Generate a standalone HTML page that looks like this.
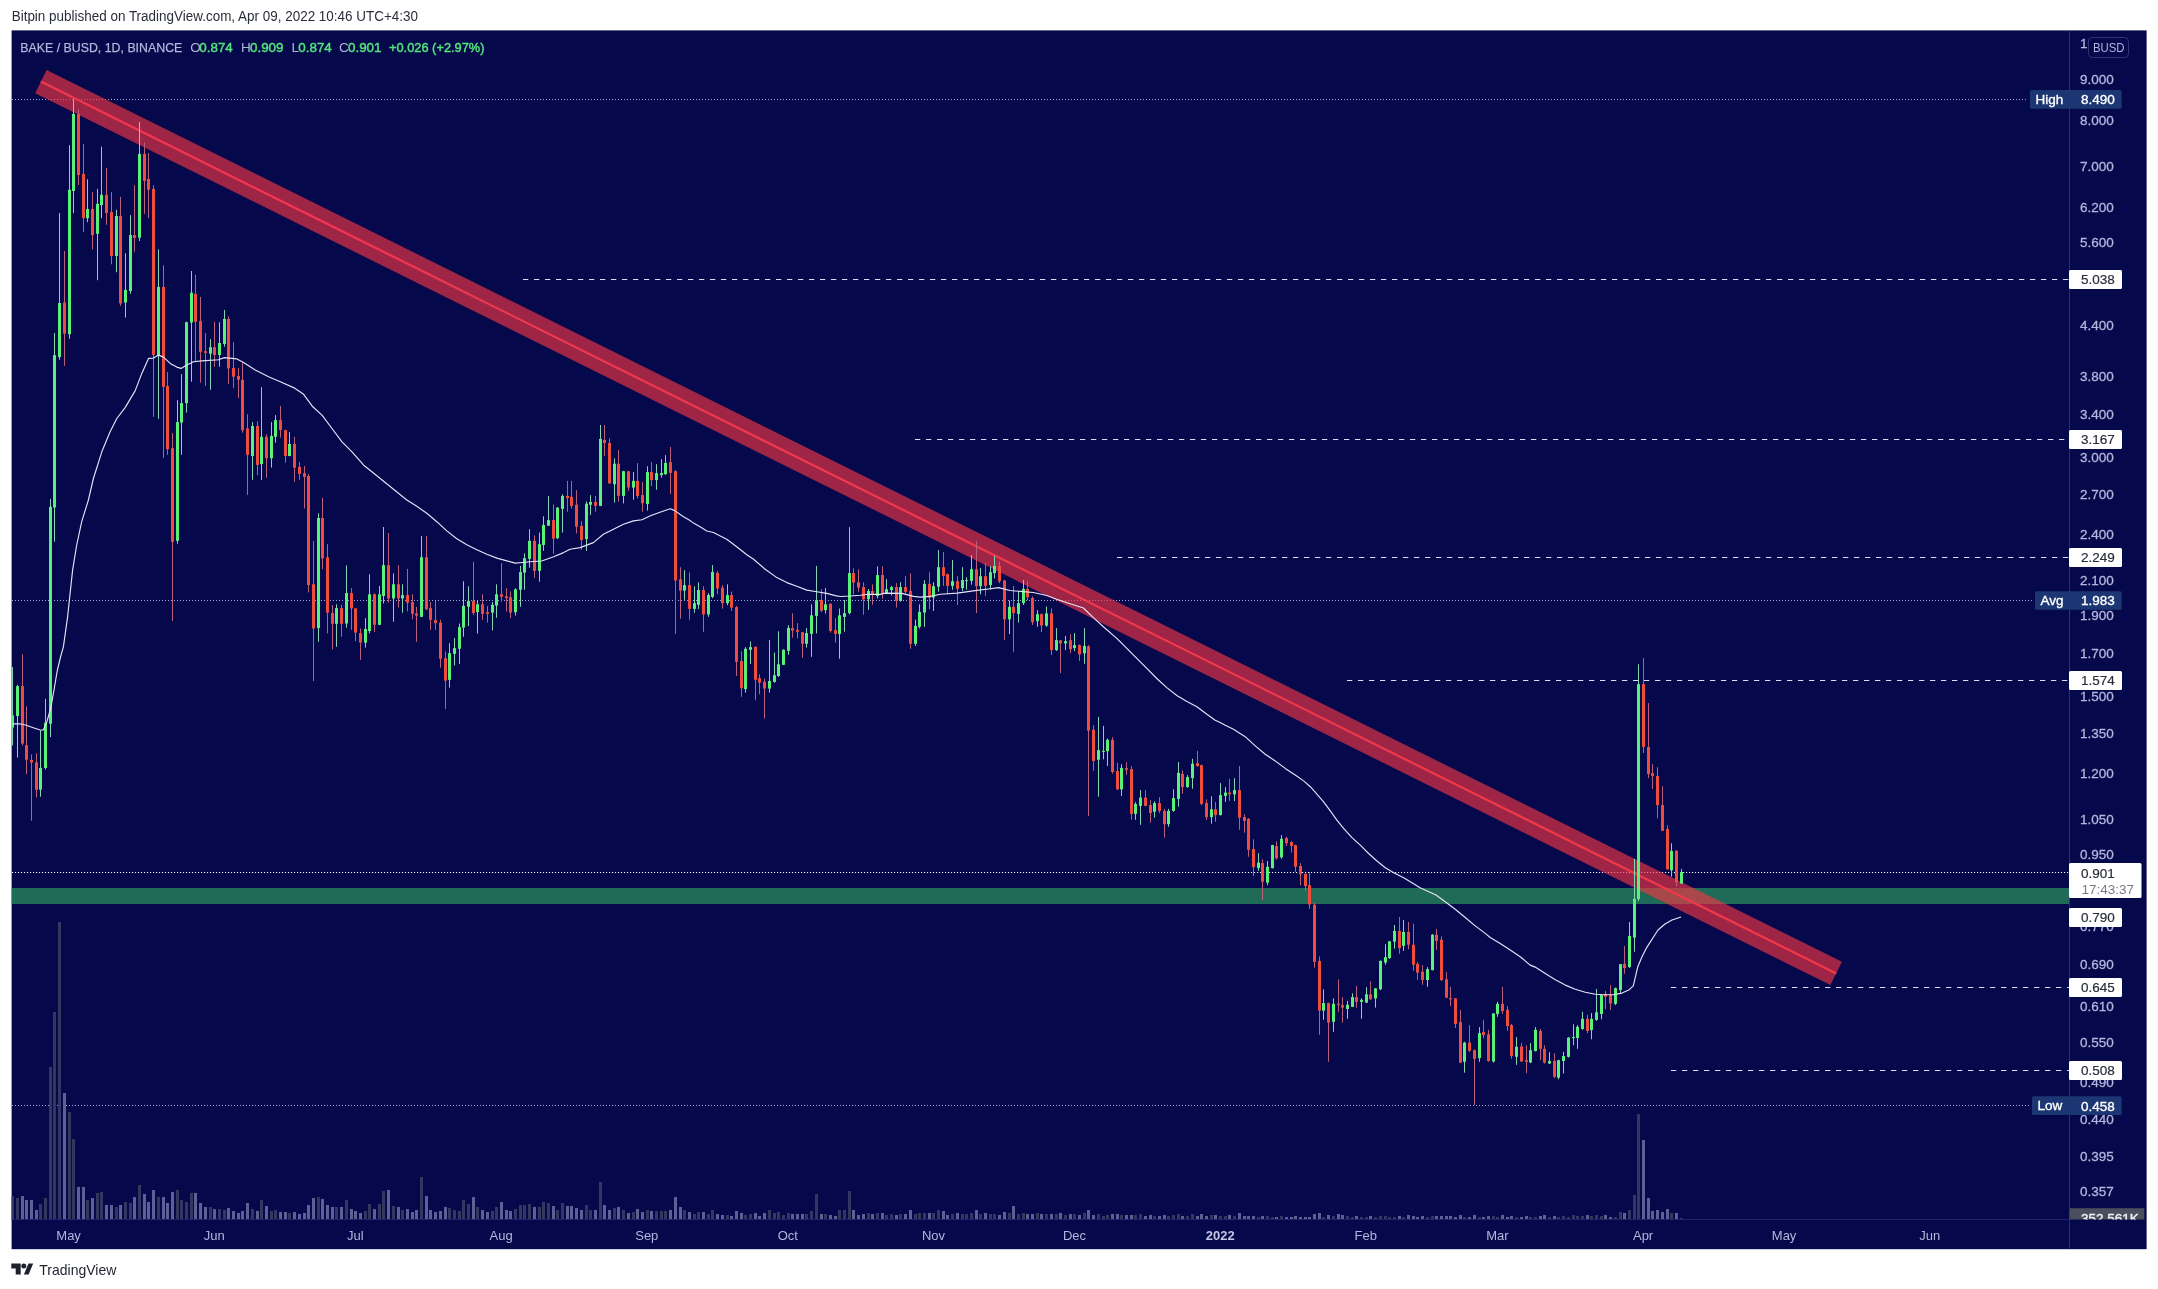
<!DOCTYPE html><html><head><meta charset="utf-8"><title>BAKE / BUSD</title>
<style>html,body{margin:0;padding:0;background:#fff}svg{display:block;opacity:.999;will-change:transform}text{font-family:"Liberation Sans",sans-serif}</style></head><body>
<svg width="2158" height="1289" viewBox="0 0 2158 1289">
<rect width="2158" height="1289" fill="#fff"/>
<rect x="11.6" y="30.4" width="2135.0" height="1218.8" fill="#05084a"/>
<defs><clipPath id="plot"><rect x="11.6" y="30.4" width="2057.9" height="1189.1"/></clipPath></defs>
<g clip-path="url(#plot)">
<line x1="12" y1="99.5" x2="2028" y2="99.5" stroke="#a5a8d0" stroke-width="1" stroke-dasharray="1 2"/>
<line x1="12" y1="600.5" x2="2034" y2="600.5" stroke="#a5a8d0" stroke-width="1" stroke-dasharray="1 2"/>
<line x1="12" y1="1105.5" x2="2031" y2="1105.5" stroke="#a5a8d0" stroke-width="1" stroke-dasharray="1 2"/>
<g shape-rendering="crispEdges"><rect x="11" y="1195.5" width="3" height="24" fill="#33365f"/><rect x="16" y="1197.5" width="3" height="22" fill="#33365f"/><rect x="21" y="1195.5" width="3" height="24" fill="#5d6094"/><rect x="25" y="1199.5" width="3" height="20" fill="#5d6094"/><rect x="30" y="1199.5" width="3" height="20" fill="#5d6094"/><rect x="35" y="1209.5" width="3" height="10" fill="#5d6094"/><rect x="39" y="1203.5" width="3" height="16" fill="#33365f"/><rect x="44" y="1197.5" width="3" height="22" fill="#33365f"/><rect x="49" y="1066.5" width="3" height="153" fill="#33365f"/><rect x="53" y="1011.9" width="3" height="207.6" fill="#33365f"/><rect x="58" y="921.8" width="3" height="297.7" fill="#33365f"/><rect x="63" y="1093" width="3" height="126.5" fill="#5d6094"/><rect x="68" y="1112" width="3" height="107.5" fill="#33365f"/><rect x="72" y="1138.7" width="3" height="80.8" fill="#33365f"/><rect x="77" y="1186.5" width="3" height="33" fill="#5d6094"/><rect x="82" y="1186.5" width="3" height="33" fill="#5d6094"/><rect x="86" y="1200" width="3" height="19.5" fill="#33365f"/><rect x="91" y="1197.5" width="3" height="22" fill="#5d6094"/><rect x="96" y="1192.5" width="3" height="27" fill="#33365f"/><rect x="100" y="1191.5" width="3" height="28" fill="#33365f"/><rect x="105" y="1204.5" width="3" height="15" fill="#5d6094"/><rect x="110" y="1204.5" width="3" height="15" fill="#5d6094"/><rect x="115" y="1206.9" width="3" height="12.6" fill="#33365f"/><rect x="119" y="1204.5" width="3" height="15" fill="#5d6094"/><rect x="124" y="1201.5" width="3" height="18" fill="#33365f"/><rect x="129" y="1202.5" width="3" height="17" fill="#33365f"/><rect x="133" y="1196.5" width="3" height="23" fill="#5d6094"/><rect x="138" y="1184.5" width="3" height="35" fill="#33365f"/><rect x="143" y="1193.5" width="3" height="26" fill="#5d6094"/><rect x="147" y="1202" width="3" height="17.5" fill="#5d6094"/><rect x="152" y="1189.5" width="3" height="30" fill="#5d6094"/><rect x="157" y="1196.5" width="3" height="23" fill="#33365f"/><rect x="162" y="1196.5" width="3" height="23" fill="#5d6094"/><rect x="166" y="1203" width="3" height="16.5" fill="#5d6094"/><rect x="171" y="1191.5" width="3" height="28" fill="#5d6094"/><rect x="176" y="1189.5" width="3" height="30" fill="#33365f"/><rect x="180" y="1199.5" width="3" height="20" fill="#33365f"/><rect x="185" y="1202" width="3" height="17.5" fill="#33365f"/><rect x="190" y="1193" width="3" height="26.5" fill="#33365f"/><rect x="194" y="1193" width="3" height="26.5" fill="#5d6094"/><rect x="199" y="1203" width="3" height="16.5" fill="#5d6094"/><rect x="204" y="1206.9" width="3" height="12.6" fill="#5d6094"/><rect x="209" y="1206.5" width="3" height="13" fill="#33365f"/><rect x="213" y="1208.5" width="3" height="11" fill="#5d6094"/><rect x="218" y="1208.5" width="3" height="11" fill="#33365f"/><rect x="223" y="1209.5" width="3" height="10" fill="#33365f"/><rect x="227" y="1207.5" width="3" height="12" fill="#5d6094"/><rect x="232" y="1210.5" width="3" height="9" fill="#5d6094"/><rect x="237" y="1213" width="3" height="6.5" fill="#5d6094"/><rect x="241" y="1211.1" width="3" height="8.4" fill="#5d6094"/><rect x="246" y="1203" width="3" height="16.5" fill="#5d6094"/><rect x="251" y="1208.5" width="3" height="11" fill="#33365f"/><rect x="256" y="1210.5" width="3" height="9" fill="#5d6094"/><rect x="260" y="1199.5" width="3" height="20" fill="#33365f"/><rect x="265" y="1205.5" width="3" height="14" fill="#5d6094"/><rect x="270" y="1210.5" width="3" height="9" fill="#33365f"/><rect x="274" y="1209.5" width="3" height="10" fill="#33365f"/><rect x="279" y="1212.1" width="3" height="7.4" fill="#5d6094"/><rect x="284" y="1212.1" width="3" height="7.4" fill="#5d6094"/><rect x="288" y="1213.1" width="3" height="6.4" fill="#33365f"/><rect x="293" y="1212.1" width="3" height="7.4" fill="#5d6094"/><rect x="298" y="1214.1" width="3" height="5.4" fill="#5d6094"/><rect x="303" y="1213.1" width="3" height="6.4" fill="#5d6094"/><rect x="307" y="1204.9" width="3" height="14.6" fill="#5d6094"/><rect x="312" y="1198.1" width="3" height="21.4" fill="#5d6094"/><rect x="317" y="1197.1" width="3" height="22.4" fill="#33365f"/><rect x="321" y="1199.1" width="3" height="20.4" fill="#5d6094"/><rect x="326" y="1204.9" width="3" height="14.6" fill="#5d6094"/><rect x="331" y="1206.9" width="3" height="12.6" fill="#5d6094"/><rect x="335" y="1206.5" width="3" height="13" fill="#33365f"/><rect x="340" y="1206.9" width="3" height="12.6" fill="#5d6094"/><rect x="345" y="1200" width="3" height="19.5" fill="#33365f"/><rect x="350" y="1208.5" width="3" height="11" fill="#5d6094"/><rect x="354" y="1211.1" width="3" height="8.4" fill="#5d6094"/><rect x="359" y="1213.1" width="3" height="6.4" fill="#5d6094"/><rect x="364" y="1211.1" width="3" height="8.4" fill="#33365f"/><rect x="368" y="1203.9" width="3" height="15.6" fill="#33365f"/><rect x="373" y="1208.5" width="3" height="11" fill="#5d6094"/><rect x="378" y="1203.9" width="3" height="15.6" fill="#33365f"/><rect x="382" y="1191.1" width="3" height="28.4" fill="#33365f"/><rect x="387" y="1190.1" width="3" height="29.4" fill="#5d6094"/><rect x="392" y="1205.5" width="3" height="14" fill="#33365f"/><rect x="397" y="1206.5" width="3" height="13" fill="#5d6094"/><rect x="401" y="1210.2" width="3" height="9.3" fill="#33365f"/><rect x="406" y="1208.5" width="3" height="11" fill="#5d6094"/><rect x="411" y="1212.1" width="3" height="7.4" fill="#5d6094"/><rect x="415" y="1210.2" width="3" height="9.3" fill="#5d6094"/><rect x="420" y="1177.1" width="3" height="42.4" fill="#33365f"/><rect x="425" y="1195.5" width="3" height="24" fill="#5d6094"/><rect x="429" y="1209.5" width="3" height="10" fill="#5d6094"/><rect x="434" y="1211.5" width="3" height="8" fill="#5d6094"/><rect x="439" y="1210.5" width="3" height="9" fill="#5d6094"/><rect x="444" y="1206.5" width="3" height="13" fill="#5d6094"/><rect x="448" y="1207.5" width="3" height="12" fill="#33365f"/><rect x="453" y="1209.5" width="3" height="10" fill="#33365f"/><rect x="458" y="1210.5" width="3" height="9" fill="#33365f"/><rect x="462" y="1200" width="3" height="19.5" fill="#33365f"/><rect x="467" y="1203.9" width="3" height="15.6" fill="#33365f"/><rect x="472" y="1197.1" width="3" height="22.4" fill="#5d6094"/><rect x="476" y="1206.5" width="3" height="13" fill="#33365f"/><rect x="481" y="1209.5" width="3" height="10" fill="#5d6094"/><rect x="486" y="1212.1" width="3" height="7.4" fill="#5d6094"/><rect x="491" y="1211.1" width="3" height="8.4" fill="#33365f"/><rect x="495" y="1206.5" width="3" height="13" fill="#33365f"/><rect x="500" y="1201.5" width="3" height="18" fill="#5d6094"/><rect x="505" y="1209.5" width="3" height="10" fill="#5d6094"/><rect x="509" y="1211.1" width="3" height="8.4" fill="#5d6094"/><rect x="514" y="1208.8" width="3" height="10.7" fill="#33365f"/><rect x="519" y="1204.9" width="3" height="14.6" fill="#33365f"/><rect x="523" y="1204.5" width="3" height="15" fill="#33365f"/><rect x="528" y="1203.5" width="3" height="16" fill="#33365f"/><rect x="533" y="1206.5" width="3" height="13" fill="#5d6094"/><rect x="538" y="1206.5" width="3" height="13" fill="#33365f"/><rect x="542" y="1201.5" width="3" height="18" fill="#33365f"/><rect x="547" y="1202.5" width="3" height="17" fill="#33365f"/><rect x="552" y="1205.5" width="3" height="14" fill="#5d6094"/><rect x="556" y="1209.5" width="3" height="10" fill="#33365f"/><rect x="561" y="1203" width="3" height="16.5" fill="#33365f"/><rect x="566" y="1205.5" width="3" height="14" fill="#5d6094"/><rect x="570" y="1205.5" width="3" height="14" fill="#5d6094"/><rect x="575" y="1207.5" width="3" height="12" fill="#5d6094"/><rect x="580" y="1209.5" width="3" height="10" fill="#5d6094"/><rect x="585" y="1204.9" width="3" height="14.6" fill="#33365f"/><rect x="589" y="1210.2" width="3" height="9.3" fill="#33365f"/><rect x="594" y="1209.5" width="3" height="10" fill="#5d6094"/><rect x="599" y="1181.9" width="3" height="37.6" fill="#33365f"/><rect x="603" y="1204.5" width="3" height="15" fill="#5d6094"/><rect x="608" y="1209.5" width="3" height="10" fill="#5d6094"/><rect x="613" y="1207.5" width="3" height="12" fill="#33365f"/><rect x="617" y="1206.5" width="3" height="13" fill="#5d6094"/><rect x="622" y="1210.2" width="3" height="9.3" fill="#33365f"/><rect x="627" y="1213.1" width="3" height="6.4" fill="#5d6094"/><rect x="632" y="1212.1" width="3" height="7.4" fill="#33365f"/><rect x="636" y="1208.5" width="3" height="11" fill="#5d6094"/><rect x="641" y="1212.1" width="3" height="7.4" fill="#5d6094"/><rect x="646" y="1209.5" width="3" height="10" fill="#33365f"/><rect x="650" y="1211.1" width="3" height="8.4" fill="#5d6094"/><rect x="655" y="1211.1" width="3" height="8.4" fill="#33365f"/><rect x="660" y="1211.1" width="3" height="8.4" fill="#33365f"/><rect x="664" y="1211.1" width="3" height="8.4" fill="#33365f"/><rect x="669" y="1210.2" width="3" height="9.3" fill="#5d6094"/><rect x="674" y="1197.1" width="3" height="22.4" fill="#5d6094"/><rect x="679" y="1206.5" width="3" height="13" fill="#5d6094"/><rect x="683" y="1209.5" width="3" height="10" fill="#33365f"/><rect x="688" y="1212.1" width="3" height="7.4" fill="#5d6094"/><rect x="693" y="1214.1" width="3" height="5.4" fill="#33365f"/><rect x="697" y="1212.1" width="3" height="7.4" fill="#33365f"/><rect x="702" y="1212.1" width="3" height="7.4" fill="#5d6094"/><rect x="707" y="1214.1" width="3" height="5.4" fill="#33365f"/><rect x="711" y="1210.2" width="3" height="9.3" fill="#33365f"/><rect x="716" y="1214.1" width="3" height="5.4" fill="#5d6094"/><rect x="721" y="1215" width="3" height="4.5" fill="#5d6094"/><rect x="726" y="1215" width="3" height="4.5" fill="#33365f"/><rect x="730" y="1216" width="3" height="3.5" fill="#5d6094"/><rect x="735" y="1211.1" width="3" height="8.4" fill="#5d6094"/><rect x="740" y="1213.1" width="3" height="6.4" fill="#5d6094"/><rect x="744" y="1215" width="3" height="4.5" fill="#33365f"/><rect x="749" y="1214.1" width="3" height="5.4" fill="#33365f"/><rect x="754" y="1213.1" width="3" height="6.4" fill="#5d6094"/><rect x="758" y="1216" width="3" height="3.5" fill="#5d6094"/><rect x="763" y="1213.1" width="3" height="6.4" fill="#5d6094"/><rect x="768" y="1210.2" width="3" height="9.3" fill="#33365f"/><rect x="773" y="1213.1" width="3" height="6.4" fill="#33365f"/><rect x="777" y="1212.1" width="3" height="7.4" fill="#33365f"/><rect x="782" y="1215" width="3" height="4.5" fill="#33365f"/><rect x="787" y="1213.1" width="3" height="6.4" fill="#33365f"/><rect x="791" y="1214.1" width="3" height="5.4" fill="#5d6094"/><rect x="796" y="1214.1" width="3" height="5.4" fill="#5d6094"/><rect x="801" y="1214.1" width="3" height="5.4" fill="#5d6094"/><rect x="805" y="1214.1" width="3" height="5.4" fill="#33365f"/><rect x="810" y="1211.1" width="3" height="8.4" fill="#33365f"/><rect x="815" y="1194.2" width="3" height="25.3" fill="#33365f"/><rect x="820" y="1214.1" width="3" height="5.4" fill="#5d6094"/><rect x="824" y="1214.1" width="3" height="5.4" fill="#33365f"/><rect x="829" y="1215" width="3" height="4.5" fill="#5d6094"/><rect x="834" y="1216" width="3" height="3.5" fill="#5d6094"/><rect x="838" y="1209.5" width="3" height="10" fill="#33365f"/><rect x="843" y="1209.5" width="3" height="10" fill="#33365f"/><rect x="848" y="1191.1" width="3" height="28.4" fill="#33365f"/><rect x="852" y="1209.5" width="3" height="10" fill="#5d6094"/><rect x="857" y="1214.5" width="3" height="5" fill="#5d6094"/><rect x="862" y="1213.5" width="3" height="6" fill="#5d6094"/><rect x="867" y="1213.4" width="3" height="6.1" fill="#33365f"/><rect x="871" y="1214.4" width="3" height="5.1" fill="#5d6094"/><rect x="876" y="1213.3" width="3" height="6.2" fill="#33365f"/><rect x="881" y="1212.8" width="3" height="6.7" fill="#5d6094"/><rect x="885" y="1214.5" width="3" height="5" fill="#33365f"/><rect x="890" y="1214.1" width="3" height="5.4" fill="#33365f"/><rect x="895" y="1214.5" width="3" height="5" fill="#5d6094"/><rect x="899" y="1214.1" width="3" height="5.4" fill="#33365f"/><rect x="904" y="1213.6" width="3" height="5.9" fill="#5d6094"/><rect x="909" y="1210.2" width="3" height="9.3" fill="#5d6094"/><rect x="914" y="1213.7" width="3" height="5.8" fill="#33365f"/><rect x="918" y="1213.2" width="3" height="6.3" fill="#33365f"/><rect x="923" y="1213.3" width="3" height="6.2" fill="#33365f"/><rect x="928" y="1213.1" width="3" height="6.4" fill="#5d6094"/><rect x="932" y="1212.9" width="3" height="6.6" fill="#33365f"/><rect x="937" y="1210.2" width="3" height="9.3" fill="#33365f"/><rect x="942" y="1211.1" width="3" height="8.4" fill="#5d6094"/><rect x="946" y="1214.7" width="3" height="4.8" fill="#5d6094"/><rect x="951" y="1213.7" width="3" height="5.8" fill="#33365f"/><rect x="956" y="1213.2" width="3" height="6.3" fill="#5d6094"/><rect x="961" y="1214.4" width="3" height="5.1" fill="#33365f"/><rect x="965" y="1214.3" width="3" height="5.2" fill="#33365f"/><rect x="970" y="1213" width="3" height="6.5" fill="#33365f"/><rect x="975" y="1209.5" width="3" height="10" fill="#5d6094"/><rect x="979" y="1213.6" width="3" height="5.9" fill="#33365f"/><rect x="984" y="1212.7" width="3" height="6.8" fill="#5d6094"/><rect x="989" y="1214.1" width="3" height="5.4" fill="#33365f"/><rect x="993" y="1213.6" width="3" height="5.9" fill="#33365f"/><rect x="998" y="1214.6" width="3" height="4.9" fill="#5d6094"/><rect x="1003" y="1212.1" width="3" height="7.4" fill="#5d6094"/><rect x="1008" y="1213" width="3" height="6.5" fill="#33365f"/><rect x="1012" y="1205.5" width="3" height="14" fill="#5d6094"/><rect x="1017" y="1213.5" width="3" height="6" fill="#33365f"/><rect x="1022" y="1213.2" width="3" height="6.3" fill="#33365f"/><rect x="1026" y="1214.4" width="3" height="5.1" fill="#5d6094"/><rect x="1031" y="1213.5" width="3" height="6" fill="#5d6094"/><rect x="1036" y="1213.4" width="3" height="6.1" fill="#33365f"/><rect x="1040" y="1214.3" width="3" height="5.2" fill="#5d6094"/><rect x="1045" y="1213.7" width="3" height="5.8" fill="#33365f"/><rect x="1050" y="1213.6" width="3" height="5.9" fill="#5d6094"/><rect x="1055" y="1214" width="3" height="5.5" fill="#33365f"/><rect x="1059" y="1213" width="3" height="6.5" fill="#5d6094"/><rect x="1064" y="1214.8" width="3" height="4.7" fill="#33365f"/><rect x="1069" y="1214" width="3" height="5.5" fill="#5d6094"/><rect x="1073" y="1213.5" width="3" height="6" fill="#33365f"/><rect x="1078" y="1214.5" width="3" height="5" fill="#5d6094"/><rect x="1083" y="1213.2" width="3" height="6.3" fill="#33365f"/><rect x="1087" y="1210.2" width="3" height="9.3" fill="#5d6094"/><rect x="1092" y="1214.7" width="3" height="4.8" fill="#5d6094"/><rect x="1097" y="1213.5" width="3" height="6" fill="#33365f"/><rect x="1102" y="1215.6" width="3" height="3.9" fill="#33365f"/><rect x="1106" y="1215.3" width="3" height="4.2" fill="#33365f"/><rect x="1111" y="1214.4" width="3" height="5.1" fill="#5d6094"/><rect x="1116" y="1214.1" width="3" height="5.4" fill="#5d6094"/><rect x="1120" y="1215" width="3" height="4.5" fill="#33365f"/><rect x="1125" y="1215.3" width="3" height="4.2" fill="#5d6094"/><rect x="1130" y="1214.5" width="3" height="5" fill="#5d6094"/><rect x="1134" y="1215.4" width="3" height="4.1" fill="#33365f"/><rect x="1139" y="1214.2" width="3" height="5.3" fill="#33365f"/><rect x="1144" y="1215.9" width="3" height="3.6" fill="#5d6094"/><rect x="1149" y="1215.1" width="3" height="4.4" fill="#5d6094"/><rect x="1153" y="1216.2" width="3" height="3.3" fill="#33365f"/><rect x="1158" y="1215.8" width="3" height="3.7" fill="#5d6094"/><rect x="1163" y="1214.7" width="3" height="4.8" fill="#5d6094"/><rect x="1167" y="1216.1" width="3" height="3.4" fill="#33365f"/><rect x="1172" y="1215.4" width="3" height="4.1" fill="#33365f"/><rect x="1177" y="1214" width="3" height="5.5" fill="#33365f"/><rect x="1181" y="1215.7" width="3" height="3.8" fill="#5d6094"/><rect x="1186" y="1215.6" width="3" height="3.9" fill="#33365f"/><rect x="1191" y="1214.4" width="3" height="5.1" fill="#33365f"/><rect x="1196" y="1215.9" width="3" height="3.6" fill="#5d6094"/><rect x="1200" y="1214.4" width="3" height="5.1" fill="#5d6094"/><rect x="1205" y="1216.1" width="3" height="3.4" fill="#5d6094"/><rect x="1210" y="1215.3" width="3" height="4.2" fill="#33365f"/><rect x="1214" y="1215.1" width="3" height="4.4" fill="#5d6094"/><rect x="1219" y="1215.5" width="3" height="4" fill="#33365f"/><rect x="1224" y="1215.7" width="3" height="3.8" fill="#33365f"/><rect x="1228" y="1214.9" width="3" height="4.6" fill="#5d6094"/><rect x="1233" y="1215.7" width="3" height="3.8" fill="#33365f"/><rect x="1238" y="1213.1" width="3" height="6.4" fill="#5d6094"/><rect x="1243" y="1216.2" width="3" height="3.3" fill="#5d6094"/><rect x="1247" y="1216.3" width="3" height="3.2" fill="#5d6094"/><rect x="1252" y="1216" width="3" height="3.5" fill="#5d6094"/><rect x="1257" y="1217.3" width="3" height="2.2" fill="#33365f"/><rect x="1261" y="1216.2" width="3" height="3.3" fill="#5d6094"/><rect x="1266" y="1216.3" width="3" height="3.2" fill="#33365f"/><rect x="1271" y="1217" width="3" height="2.5" fill="#33365f"/><rect x="1275" y="1216.7" width="3" height="2.8" fill="#5d6094"/><rect x="1280" y="1216.2" width="3" height="3.3" fill="#33365f"/><rect x="1285" y="1217.3" width="3" height="2.2" fill="#5d6094"/><rect x="1290" y="1216.9" width="3" height="2.6" fill="#5d6094"/><rect x="1294" y="1216" width="3" height="3.5" fill="#5d6094"/><rect x="1299" y="1216.8" width="3" height="2.7" fill="#5d6094"/><rect x="1304" y="1216.6" width="3" height="2.9" fill="#5d6094"/><rect x="1308" y="1216.7" width="3" height="2.8" fill="#5d6094"/><rect x="1313" y="1214.1" width="3" height="5.4" fill="#5d6094"/><rect x="1318" y="1213.1" width="3" height="6.4" fill="#5d6094"/><rect x="1322" y="1216.8" width="3" height="2.7" fill="#33365f"/><rect x="1327" y="1215" width="3" height="4.5" fill="#5d6094"/><rect x="1332" y="1215.9" width="3" height="3.6" fill="#33365f"/><rect x="1337" y="1214.1" width="3" height="5.4" fill="#5d6094"/><rect x="1341" y="1215" width="3" height="4.5" fill="#5d6094"/><rect x="1346" y="1216.3" width="3" height="3.2" fill="#33365f"/><rect x="1351" y="1217.1" width="3" height="2.4" fill="#33365f"/><rect x="1355" y="1216.4" width="3" height="3.1" fill="#5d6094"/><rect x="1360" y="1217.2" width="3" height="2.3" fill="#33365f"/><rect x="1365" y="1216.9" width="3" height="2.6" fill="#33365f"/><rect x="1369" y="1216.4" width="3" height="3.1" fill="#5d6094"/><rect x="1374" y="1217.1" width="3" height="2.4" fill="#33365f"/><rect x="1379" y="1216.4" width="3" height="3.1" fill="#33365f"/><rect x="1384" y="1216.3" width="3" height="3.2" fill="#33365f"/><rect x="1388" y="1217.1" width="3" height="2.4" fill="#33365f"/><rect x="1393" y="1216.5" width="3" height="3" fill="#33365f"/><rect x="1398" y="1215.7" width="3" height="3.8" fill="#5d6094"/><rect x="1402" y="1216.6" width="3" height="2.9" fill="#33365f"/><rect x="1407" y="1215" width="3" height="4.5" fill="#5d6094"/><rect x="1412" y="1216.4" width="3" height="3.1" fill="#5d6094"/><rect x="1416" y="1216.9" width="3" height="2.6" fill="#5d6094"/><rect x="1421" y="1216.4" width="3" height="3.1" fill="#5d6094"/><rect x="1426" y="1217.1" width="3" height="2.4" fill="#33365f"/><rect x="1431" y="1216.2" width="3" height="3.3" fill="#33365f"/><rect x="1435" y="1216.3" width="3" height="3.2" fill="#5d6094"/><rect x="1440" y="1216.3" width="3" height="3.2" fill="#5d6094"/><rect x="1445" y="1216.4" width="3" height="3.1" fill="#5d6094"/><rect x="1449" y="1216.2" width="3" height="3.3" fill="#5d6094"/><rect x="1454" y="1216.6" width="3" height="2.9" fill="#5d6094"/><rect x="1459" y="1215" width="3" height="4.5" fill="#5d6094"/><rect x="1463" y="1216.9" width="3" height="2.6" fill="#33365f"/><rect x="1468" y="1216.6" width="3" height="2.9" fill="#5d6094"/><rect x="1473" y="1215" width="3" height="4.5" fill="#5d6094"/><rect x="1478" y="1216.7" width="3" height="2.8" fill="#33365f"/><rect x="1482" y="1216.7" width="3" height="2.8" fill="#5d6094"/><rect x="1487" y="1215.9" width="3" height="3.6" fill="#5d6094"/><rect x="1492" y="1216.1" width="3" height="3.4" fill="#33365f"/><rect x="1496" y="1216.7" width="3" height="2.8" fill="#33365f"/><rect x="1501" y="1215" width="3" height="4.5" fill="#5d6094"/><rect x="1506" y="1216.8" width="3" height="2.7" fill="#5d6094"/><rect x="1510" y="1216" width="3" height="3.5" fill="#5d6094"/><rect x="1515" y="1217" width="3" height="2.5" fill="#33365f"/><rect x="1520" y="1216.8" width="3" height="2.7" fill="#5d6094"/><rect x="1525" y="1216.2" width="3" height="3.3" fill="#5d6094"/><rect x="1529" y="1217.1" width="3" height="2.4" fill="#33365f"/><rect x="1534" y="1216.6" width="3" height="2.9" fill="#33365f"/><rect x="1539" y="1216" width="3" height="3.5" fill="#5d6094"/><rect x="1543" y="1215" width="3" height="4.5" fill="#5d6094"/><rect x="1548" y="1216.8" width="3" height="2.7" fill="#33365f"/><rect x="1553" y="1216" width="3" height="3.5" fill="#5d6094"/><rect x="1557" y="1216.9" width="3" height="2.6" fill="#33365f"/><rect x="1562" y="1216.4" width="3" height="3.1" fill="#33365f"/><rect x="1567" y="1217.2" width="3" height="2.3" fill="#33365f"/><rect x="1572" y="1214.5" width="3" height="5" fill="#33365f"/><rect x="1576" y="1215.5" width="3" height="4" fill="#33365f"/><rect x="1581" y="1215.5" width="3" height="4" fill="#33365f"/><rect x="1586" y="1215" width="3" height="4.5" fill="#5d6094"/><rect x="1590" y="1215.5" width="3" height="4" fill="#33365f"/><rect x="1595" y="1214.5" width="3" height="5" fill="#33365f"/><rect x="1600" y="1216" width="3" height="3.5" fill="#33365f"/><rect x="1604" y="1215" width="3" height="4.5" fill="#5d6094"/><rect x="1609" y="1216.5" width="3" height="3" fill="#5d6094"/><rect x="1614" y="1217" width="3" height="2.5" fill="#33365f"/><rect x="1619" y="1212.1" width="3" height="7.4" fill="#33365f"/><rect x="1623" y="1213.1" width="3" height="6.4" fill="#5d6094"/><rect x="1628" y="1210.2" width="3" height="9.3" fill="#33365f"/><rect x="1633" y="1194.5" width="3" height="25" fill="#33365f"/><rect x="1637" y="1113.5" width="3" height="106" fill="#33365f"/><rect x="1642" y="1139.5" width="3" height="80" fill="#5d6094"/><rect x="1647" y="1198.1" width="3" height="21.4" fill="#5d6094"/><rect x="1651" y="1211.1" width="3" height="8.4" fill="#5d6094"/><rect x="1656" y="1210.2" width="3" height="9.3" fill="#5d6094"/><rect x="1661" y="1212.1" width="3" height="7.4" fill="#5d6094"/><rect x="1666" y="1209.2" width="3" height="10.3" fill="#5d6094"/><rect x="1670" y="1213.1" width="3" height="6.4" fill="#33365f"/><rect x="1675" y="1213.1" width="3" height="6.4" fill="#5d6094"/><rect x="1680" y="1217.5" width="3" height="2" fill="#33365f"/></g>
<rect x="11.6" y="888" width="2057.9" height="16" fill="#206a58"/>
<line x1="523" y1="279.5" x2="2069.5" y2="279.5" stroke="#dcddfa" stroke-width="1.15" stroke-dasharray="5.3 5.7"/>
<line x1="915" y1="439.5" x2="2069.5" y2="439.5" stroke="#dcddfa" stroke-width="1.15" stroke-dasharray="5.3 5.7"/>
<line x1="1117" y1="557.5" x2="2069.5" y2="557.5" stroke="#dcddfa" stroke-width="1.15" stroke-dasharray="5.3 5.7"/>
<line x1="1347" y1="680.5" x2="2069.5" y2="680.5" stroke="#dcddfa" stroke-width="1.15" stroke-dasharray="5.3 5.7"/>
<line x1="1671" y1="987.5" x2="2069.5" y2="987.5" stroke="#dcddfa" stroke-width="1.15" stroke-dasharray="5.3 5.7"/>
<line x1="1671" y1="1070.5" x2="2069.5" y2="1070.5" stroke="#dcddfa" stroke-width="1.15" stroke-dasharray="5.3 5.7"/>
<line x1="12" y1="872.5" x2="2069.5" y2="872.5" stroke="#ffffff" stroke-width="1.15" stroke-dasharray="1.15 1.85"/>
<line x1="40.9" y1="81.6" x2="1836.2" y2="973.4" stroke="#f23645" stroke-opacity="0.65" stroke-width="25.8"/>
<line x1="40.9" y1="81.6" x2="1836.2" y2="973.4" stroke="#f2384a" stroke-width="2.2"/>
<g><rect x="12" y="667" width="1" height="78.5" fill="#82d4b2"/><rect x="17" y="684.9" width="1" height="72.7" fill="#82d4b2"/><rect x="22" y="654.3" width="1" height="91.2" fill="#b95f79"/><rect x="26" y="706.4" width="1" height="67.8" fill="#b95f79"/><rect x="31" y="754.4" width="1" height="66.4" fill="#b95f79"/><rect x="36" y="753.3" width="1" height="44.2" fill="#b95f79"/><rect x="40" y="730.8" width="1" height="65.9" fill="#82d4b2"/><rect x="45" y="698.9" width="1" height="70.6" fill="#82d4b2"/><rect x="50" y="498.9" width="1" height="238.1" fill="#82d4b2"/><rect x="54" y="333" width="1" height="208.7" fill="#82d4b2"/><rect x="59" y="213.1" width="1" height="146.6" fill="#82d4b2"/><rect x="64" y="251" width="1" height="114.9" fill="#b95f79"/><rect x="69" y="145.1" width="1" height="193.7" fill="#82d4b2"/><rect x="73" y="99.2" width="1" height="113.9" fill="#82d4b2"/><rect x="78" y="109.2" width="1" height="75.9" fill="#b95f79"/><rect x="83" y="143.9" width="1" height="88.3" fill="#b95f79"/><rect x="87" y="179.3" width="1" height="42.9" fill="#82d4b2"/><rect x="92" y="192.1" width="1" height="57.2" fill="#b95f79"/><rect x="97" y="188.8" width="1" height="91.4" fill="#82d4b2"/><rect x="101" y="146.7" width="1" height="71.4" fill="#82d4b2"/><rect x="106" y="167.9" width="1" height="56.9" fill="#b95f79"/><rect x="111" y="192.1" width="1" height="72.2" fill="#b95f79"/><rect x="116" y="209.8" width="1" height="62.4" fill="#82d4b2"/><rect x="120" y="196.8" width="1" height="109.1" fill="#b95f79"/><rect x="125" y="253.2" width="1" height="64.4" fill="#82d4b2"/><rect x="130" y="215.1" width="1" height="78.7" fill="#82d4b2"/><rect x="134" y="185.1" width="1" height="66.7" fill="#b95f79"/><rect x="139" y="122" width="1" height="119" fill="#82d4b2"/><rect x="144" y="142.2" width="1" height="71.6" fill="#b95f79"/><rect x="148" y="153.1" width="1" height="65.1" fill="#b95f79"/><rect x="153" y="185.1" width="1" height="231.7" fill="#b95f79"/><rect x="158" y="249.3" width="1" height="169.5" fill="#82d4b2"/><rect x="163" y="265.2" width="1" height="192.5" fill="#b95f79"/><rect x="167" y="372.1" width="1" height="82.7" fill="#b95f79"/><rect x="172" y="433.1" width="1" height="187.8" fill="#b95f79"/><rect x="177" y="400.1" width="1" height="143.6" fill="#82d4b2"/><rect x="181" y="374.2" width="1" height="80.6" fill="#82d4b2"/><rect x="186" y="321.7" width="1" height="90.9" fill="#82d4b2"/><rect x="191" y="271" width="1" height="110.7" fill="#82d4b2"/><rect x="195" y="274.9" width="1" height="86.9" fill="#b95f79"/><rect x="200" y="296.9" width="1" height="85.7" fill="#b95f79"/><rect x="205" y="333" width="1" height="52.9" fill="#b95f79"/><rect x="210" y="339.2" width="1" height="50.6" fill="#82d4b2"/><rect x="214" y="321.7" width="1" height="45" fill="#b95f79"/><rect x="219" y="322.2" width="1" height="44.5" fill="#82d4b2"/><rect x="224" y="310" width="1" height="36.7" fill="#82d4b2"/><rect x="228" y="316.2" width="1" height="67.7" fill="#b95f79"/><rect x="233" y="342.2" width="1" height="45.9" fill="#b95f79"/><rect x="238" y="367.9" width="1" height="30.2" fill="#b95f79"/><rect x="242" y="362.6" width="1" height="70.1" fill="#b95f79"/><rect x="247" y="414.3" width="1" height="80.6" fill="#b95f79"/><rect x="252" y="422.1" width="1" height="57.7" fill="#82d4b2"/><rect x="257" y="421.3" width="1" height="53.9" fill="#b95f79"/><rect x="261" y="387.1" width="1" height="92.8" fill="#82d4b2"/><rect x="266" y="434.3" width="1" height="43.4" fill="#b95f79"/><rect x="271" y="422.1" width="1" height="45.5" fill="#82d4b2"/><rect x="275" y="415.1" width="1" height="27.5" fill="#82d4b2"/><rect x="280" y="405.9" width="1" height="31.7" fill="#b95f79"/><rect x="285" y="429.8" width="1" height="32.9" fill="#b95f79"/><rect x="289" y="432.1" width="1" height="24.2" fill="#82d4b2"/><rect x="294" y="436.8" width="1" height="45" fill="#b95f79"/><rect x="299" y="461.8" width="1" height="18" fill="#b95f79"/><rect x="304" y="466" width="1" height="42.5" fill="#b95f79"/><rect x="308" y="473.8" width="1" height="118.7" fill="#b95f79"/><rect x="313" y="540.9" width="1" height="140.1" fill="#b95f79"/><rect x="318" y="513.3" width="1" height="128.5" fill="#82d4b2"/><rect x="322" y="497.7" width="1" height="71.5" fill="#b95f79"/><rect x="327" y="544.2" width="1" height="89.3" fill="#b95f79"/><rect x="332" y="605.1" width="1" height="44.2" fill="#b95f79"/><rect x="336" y="604.3" width="1" height="42.5" fill="#82d4b2"/><rect x="341" y="604.8" width="1" height="32" fill="#b95f79"/><rect x="346" y="565.4" width="1" height="62.2" fill="#82d4b2"/><rect x="351" y="588.1" width="1" height="41.7" fill="#b95f79"/><rect x="355" y="608.1" width="1" height="32.9" fill="#b95f79"/><rect x="360" y="628.5" width="1" height="31.4" fill="#b95f79"/><rect x="365" y="618.1" width="1" height="29.5" fill="#82d4b2"/><rect x="369" y="574.2" width="1" height="59.2" fill="#82d4b2"/><rect x="374" y="593.4" width="1" height="38.4" fill="#b95f79"/><rect x="379" y="585.9" width="1" height="39.2" fill="#82d4b2"/><rect x="383" y="527" width="1" height="76.4" fill="#82d4b2"/><rect x="388" y="533" width="1" height="69.6" fill="#b95f79"/><rect x="393" y="573.4" width="1" height="48.4" fill="#82d4b2"/><rect x="398" y="565.1" width="1" height="42.5" fill="#b95f79"/><rect x="402" y="584.3" width="1" height="28.4" fill="#82d4b2"/><rect x="407" y="568.9" width="1" height="42.5" fill="#b95f79"/><rect x="412" y="594.3" width="1" height="25" fill="#b95f79"/><rect x="416" y="606.8" width="1" height="35" fill="#b95f79"/><rect x="421" y="535.9" width="1" height="81.2" fill="#82d4b2"/><rect x="426" y="535.9" width="1" height="74.2" fill="#b95f79"/><rect x="430" y="602.1" width="1" height="27.7" fill="#b95f79"/><rect x="435" y="600.9" width="1" height="28.9" fill="#b95f79"/><rect x="440" y="619.8" width="1" height="47.9" fill="#b95f79"/><rect x="445" y="651.5" width="1" height="57.4" fill="#b95f79"/><rect x="449" y="643.1" width="1" height="44.5" fill="#82d4b2"/><rect x="454" y="638.1" width="1" height="27.4" fill="#82d4b2"/><rect x="459" y="623.5" width="1" height="40.4" fill="#82d4b2"/><rect x="463" y="581.2" width="1" height="55.6" fill="#82d4b2"/><rect x="468" y="586.3" width="1" height="39.7" fill="#82d4b2"/><rect x="473" y="561.7" width="1" height="53.4" fill="#b95f79"/><rect x="477" y="600.1" width="1" height="33.4" fill="#82d4b2"/><rect x="482" y="594.3" width="1" height="25.5" fill="#b95f79"/><rect x="487" y="605.9" width="1" height="16.7" fill="#b95f79"/><rect x="492" y="602.1" width="1" height="28.4" fill="#82d4b2"/><rect x="496" y="584.3" width="1" height="33.4" fill="#82d4b2"/><rect x="501" y="563.1" width="1" height="38.7" fill="#b95f79"/><rect x="506" y="588.1" width="1" height="23.4" fill="#b95f79"/><rect x="510" y="591.4" width="1" height="26.7" fill="#b95f79"/><rect x="515" y="588.4" width="1" height="27.2" fill="#82d4b2"/><rect x="520" y="565.9" width="1" height="40.9" fill="#82d4b2"/><rect x="524" y="553.4" width="1" height="36.4" fill="#82d4b2"/><rect x="529" y="529.2" width="1" height="38.4" fill="#82d4b2"/><rect x="534" y="535.4" width="1" height="42.5" fill="#b95f79"/><rect x="539" y="532.5" width="1" height="49.2" fill="#82d4b2"/><rect x="543" y="516.3" width="1" height="34.5" fill="#82d4b2"/><rect x="548" y="495.9" width="1" height="30.1" fill="#82d4b2"/><rect x="553" y="504.5" width="1" height="49.3" fill="#b95f79"/><rect x="557" y="506.9" width="1" height="32.2" fill="#82d4b2"/><rect x="562" y="494.3" width="1" height="38.3" fill="#82d4b2"/><rect x="567" y="480.9" width="1" height="30.8" fill="#b95f79"/><rect x="571" y="480.9" width="1" height="27.6" fill="#b95f79"/><rect x="576" y="490.1" width="1" height="43.3" fill="#b95f79"/><rect x="581" y="521.2" width="1" height="28.6" fill="#b95f79"/><rect x="586" y="501.5" width="1" height="49.4" fill="#82d4b2"/><rect x="590" y="495.1" width="1" height="19.8" fill="#82d4b2"/><rect x="595" y="495.9" width="1" height="15.8" fill="#b95f79"/><rect x="600" y="425" width="1" height="81.2" fill="#82d4b2"/><rect x="604" y="425" width="1" height="30.9" fill="#b95f79"/><rect x="609" y="438.4" width="1" height="45.4" fill="#b95f79"/><rect x="614" y="458.4" width="1" height="44.2" fill="#82d4b2"/><rect x="618" y="450" width="1" height="51.7" fill="#b95f79"/><rect x="623" y="470.9" width="1" height="32.5" fill="#82d4b2"/><rect x="628" y="470.9" width="1" height="20" fill="#b95f79"/><rect x="633" y="472.1" width="1" height="27.7" fill="#82d4b2"/><rect x="637" y="463.1" width="1" height="35.4" fill="#b95f79"/><rect x="642" y="482.1" width="1" height="29.6" fill="#b95f79"/><rect x="647" y="466.2" width="1" height="44.4" fill="#82d4b2"/><rect x="651" y="462.1" width="1" height="24.2" fill="#b95f79"/><rect x="656" y="464.2" width="1" height="25.5" fill="#82d4b2"/><rect x="661" y="459.2" width="1" height="18.4" fill="#82d4b2"/><rect x="665" y="455.1" width="1" height="19.7" fill="#82d4b2"/><rect x="670" y="447" width="1" height="47.2" fill="#b95f79"/><rect x="675" y="470.1" width="1" height="163.9" fill="#b95f79"/><rect x="680" y="567.2" width="1" height="51.6" fill="#b95f79"/><rect x="684" y="570.1" width="1" height="29.7" fill="#82d4b2"/><rect x="689" y="572.3" width="1" height="47.5" fill="#b95f79"/><rect x="694" y="586.3" width="1" height="26.4" fill="#82d4b2"/><rect x="698" y="582.3" width="1" height="26.8" fill="#82d4b2"/><rect x="703" y="586.3" width="1" height="45.5" fill="#b95f79"/><rect x="708" y="593.1" width="1" height="23.7" fill="#82d4b2"/><rect x="712" y="565.1" width="1" height="33" fill="#82d4b2"/><rect x="717" y="570.9" width="1" height="23.4" fill="#b95f79"/><rect x="722" y="585.1" width="1" height="23.5" fill="#b95f79"/><rect x="727" y="584.3" width="1" height="20.9" fill="#82d4b2"/><rect x="731" y="591.5" width="1" height="19.5" fill="#b95f79"/><rect x="736" y="606" width="1" height="70" fill="#b95f79"/><rect x="741" y="651.3" width="1" height="45.5" fill="#b95f79"/><rect x="745" y="647.1" width="1" height="45.5" fill="#82d4b2"/><rect x="750" y="641.5" width="1" height="22.4" fill="#82d4b2"/><rect x="755" y="646.3" width="1" height="53.9" fill="#b95f79"/><rect x="759" y="674.3" width="1" height="20" fill="#b95f79"/><rect x="764" y="678.5" width="1" height="40" fill="#b95f79"/><rect x="769" y="640.1" width="1" height="52.6" fill="#82d4b2"/><rect x="774" y="652.6" width="1" height="30" fill="#82d4b2"/><rect x="778" y="631.3" width="1" height="45.5" fill="#82d4b2"/><rect x="783" y="649.3" width="1" height="15.8" fill="#82d4b2"/><rect x="788" y="625.1" width="1" height="29.7" fill="#82d4b2"/><rect x="792" y="613.2" width="1" height="24.5" fill="#b95f79"/><rect x="797" y="623.1" width="1" height="15.3" fill="#b95f79"/><rect x="802" y="631.8" width="1" height="25.9" fill="#b95f79"/><rect x="806" y="628.1" width="1" height="19.5" fill="#82d4b2"/><rect x="811" y="604.3" width="1" height="52.5" fill="#82d4b2"/><rect x="816" y="565.9" width="1" height="67.5" fill="#82d4b2"/><rect x="821" y="589.1" width="1" height="22.9" fill="#b95f79"/><rect x="825" y="588.1" width="1" height="25.4" fill="#82d4b2"/><rect x="830" y="603.1" width="1" height="29.5" fill="#b95f79"/><rect x="835" y="618.2" width="1" height="24.5" fill="#b95f79"/><rect x="839" y="608.5" width="1" height="50.3" fill="#82d4b2"/><rect x="844" y="600.1" width="1" height="31.6" fill="#82d4b2"/><rect x="849" y="527.1" width="1" height="87.2" fill="#82d4b2"/><rect x="853" y="568.4" width="1" height="25.9" fill="#b95f79"/><rect x="858" y="569.3" width="1" height="22.5" fill="#b95f79"/><rect x="863" y="582.3" width="1" height="32.5" fill="#b95f79"/><rect x="868" y="589" width="1" height="20.9" fill="#82d4b2"/><rect x="872" y="584.3" width="1" height="20.5" fill="#b95f79"/><rect x="877" y="566.4" width="1" height="32" fill="#82d4b2"/><rect x="882" y="566.4" width="1" height="32.4" fill="#b95f79"/><rect x="886" y="579.2" width="1" height="15" fill="#82d4b2"/><rect x="891" y="585.9" width="1" height="9.5" fill="#82d4b2"/><rect x="896" y="583.1" width="1" height="24.5" fill="#b95f79"/><rect x="900" y="582.2" width="1" height="19.5" fill="#82d4b2"/><rect x="905" y="576.2" width="1" height="17.2" fill="#b95f79"/><rect x="910" y="573.4" width="1" height="75.4" fill="#b95f79"/><rect x="915" y="619.6" width="1" height="26.4" fill="#82d4b2"/><rect x="919" y="604.3" width="1" height="24.2" fill="#82d4b2"/><rect x="924" y="580.1" width="1" height="46.7" fill="#82d4b2"/><rect x="929" y="572.2" width="1" height="37" fill="#b95f79"/><rect x="933" y="582.2" width="1" height="28.7" fill="#82d4b2"/><rect x="938" y="550" width="1" height="41.7" fill="#82d4b2"/><rect x="943" y="552" width="1" height="33.9" fill="#b95f79"/><rect x="947" y="573.4" width="1" height="20.9" fill="#b95f79"/><rect x="952" y="560" width="1" height="29.7" fill="#82d4b2"/><rect x="957" y="576.2" width="1" height="28.9" fill="#b95f79"/><rect x="962" y="567.2" width="1" height="23.7" fill="#82d4b2"/><rect x="966" y="577.2" width="1" height="12.5" fill="#82d4b2"/><rect x="971" y="555" width="1" height="29.7" fill="#82d4b2"/><rect x="976" y="540.9" width="1" height="72.2" fill="#b95f79"/><rect x="980" y="568" width="1" height="26.2" fill="#82d4b2"/><rect x="985" y="563" width="1" height="32.9" fill="#b95f79"/><rect x="990" y="566.4" width="1" height="23.4" fill="#82d4b2"/><rect x="994" y="555.9" width="1" height="22.5" fill="#82d4b2"/><rect x="999" y="561.4" width="1" height="21.7" fill="#b95f79"/><rect x="1004" y="580.1" width="1" height="59.7" fill="#b95f79"/><rect x="1009" y="600.6" width="1" height="33.4" fill="#82d4b2"/><rect x="1013" y="585.9" width="1" height="65.9" fill="#b95f79"/><rect x="1018" y="591.7" width="1" height="30.9" fill="#82d4b2"/><rect x="1023" y="580" width="1" height="25" fill="#82d4b2"/><rect x="1027" y="580.9" width="1" height="19.2" fill="#b95f79"/><rect x="1032" y="596.4" width="1" height="28.7" fill="#b95f79"/><rect x="1037" y="610.1" width="1" height="16.7" fill="#82d4b2"/><rect x="1041" y="613.4" width="1" height="18.7" fill="#b95f79"/><rect x="1046" y="606.4" width="1" height="20.4" fill="#82d4b2"/><rect x="1051" y="608.4" width="1" height="46.7" fill="#b95f79"/><rect x="1056" y="628.1" width="1" height="22.9" fill="#82d4b2"/><rect x="1060" y="640.1" width="1" height="33" fill="#b95f79"/><rect x="1065" y="635.9" width="1" height="14.2" fill="#82d4b2"/><rect x="1070" y="634.2" width="1" height="18.9" fill="#b95f79"/><rect x="1074" y="633.1" width="1" height="17.9" fill="#82d4b2"/><rect x="1079" y="644.3" width="1" height="16.7" fill="#b95f79"/><rect x="1084" y="628.1" width="1" height="35.7" fill="#82d4b2"/><rect x="1088" y="645.1" width="1" height="170.8" fill="#b95f79"/><rect x="1093" y="725.1" width="1" height="45.8" fill="#b95f79"/><rect x="1098" y="716.9" width="1" height="79.8" fill="#82d4b2"/><rect x="1103" y="725.9" width="1" height="33.4" fill="#82d4b2"/><rect x="1107" y="738.6" width="1" height="27.4" fill="#82d4b2"/><rect x="1112" y="737.2" width="1" height="36.5" fill="#b95f79"/><rect x="1117" y="762.9" width="1" height="27.2" fill="#b95f79"/><rect x="1121" y="764.3" width="1" height="31.6" fill="#82d4b2"/><rect x="1126" y="762.2" width="1" height="12.5" fill="#b95f79"/><rect x="1131" y="766" width="1" height="53.8" fill="#b95f79"/><rect x="1135" y="802.1" width="1" height="17.7" fill="#82d4b2"/><rect x="1140" y="790.1" width="1" height="34.7" fill="#82d4b2"/><rect x="1145" y="790.1" width="1" height="16.2" fill="#b95f79"/><rect x="1150" y="800.1" width="1" height="22.5" fill="#b95f79"/><rect x="1154" y="801.3" width="1" height="16.3" fill="#82d4b2"/><rect x="1159" y="797.1" width="1" height="16" fill="#b95f79"/><rect x="1164" y="808.9" width="1" height="28.7" fill="#b95f79"/><rect x="1168" y="808.9" width="1" height="17.9" fill="#82d4b2"/><rect x="1173" y="789.2" width="1" height="22.5" fill="#82d4b2"/><rect x="1178" y="762" width="1" height="44.7" fill="#82d4b2"/><rect x="1182" y="770.3" width="1" height="23.4" fill="#b95f79"/><rect x="1187" y="775.1" width="1" height="12.8" fill="#82d4b2"/><rect x="1192" y="758.8" width="1" height="30" fill="#82d4b2"/><rect x="1197" y="750.9" width="1" height="15.8" fill="#b95f79"/><rect x="1201" y="764.8" width="1" height="40.3" fill="#b95f79"/><rect x="1206" y="799.3" width="1" height="20.5" fill="#b95f79"/><rect x="1211" y="796.2" width="1" height="27.5" fill="#82d4b2"/><rect x="1215" y="802.1" width="1" height="19.7" fill="#b95f79"/><rect x="1220" y="783.1" width="1" height="32.4" fill="#82d4b2"/><rect x="1225" y="787.1" width="1" height="14.7" fill="#82d4b2"/><rect x="1229" y="778.9" width="1" height="22" fill="#b95f79"/><rect x="1234" y="778.1" width="1" height="22.9" fill="#82d4b2"/><rect x="1239" y="766" width="1" height="63.8" fill="#b95f79"/><rect x="1244" y="814.3" width="1" height="18.4" fill="#b95f79"/><rect x="1248" y="818.1" width="1" height="38.7" fill="#b95f79"/><rect x="1253" y="839.3" width="1" height="36.7" fill="#b95f79"/><rect x="1258" y="853.1" width="1" height="17.9" fill="#82d4b2"/><rect x="1262" y="859.3" width="1" height="40.9" fill="#b95f79"/><rect x="1267" y="861" width="1" height="24.2" fill="#82d4b2"/><rect x="1272" y="844.8" width="1" height="23.7" fill="#82d4b2"/><rect x="1276" y="841.3" width="1" height="18.5" fill="#b95f79"/><rect x="1281" y="835.1" width="1" height="23.7" fill="#82d4b2"/><rect x="1286" y="836.8" width="1" height="9.2" fill="#b95f79"/><rect x="1291" y="841.3" width="1" height="11.3" fill="#b95f79"/><rect x="1295" y="844.8" width="1" height="27" fill="#b95f79"/><rect x="1300" y="863.1" width="1" height="22" fill="#b95f79"/><rect x="1305" y="873.5" width="1" height="17.5" fill="#b95f79"/><rect x="1309" y="871.8" width="1" height="37" fill="#b95f79"/><rect x="1314" y="902.7" width="1" height="64.9" fill="#b95f79"/><rect x="1319" y="956.4" width="1" height="78.4" fill="#b95f79"/><rect x="1323" y="989.3" width="1" height="30.5" fill="#82d4b2"/><rect x="1328" y="1002.6" width="1" height="59.2" fill="#b95f79"/><rect x="1333" y="998.4" width="1" height="33.4" fill="#82d4b2"/><rect x="1338" y="979.3" width="1" height="32.5" fill="#b95f79"/><rect x="1342" y="997.1" width="1" height="25.5" fill="#b95f79"/><rect x="1347" y="1000.9" width="1" height="17.9" fill="#82d4b2"/><rect x="1352" y="993.4" width="1" height="13.7" fill="#82d4b2"/><rect x="1356" y="985.9" width="1" height="21.7" fill="#b95f79"/><rect x="1361" y="998.4" width="1" height="20.4" fill="#82d4b2"/><rect x="1366" y="987.1" width="1" height="16" fill="#82d4b2"/><rect x="1370" y="981.3" width="1" height="18.5" fill="#b95f79"/><rect x="1375" y="988.1" width="1" height="19.5" fill="#82d4b2"/><rect x="1380" y="960.4" width="1" height="29.7" fill="#82d4b2"/><rect x="1385" y="944.2" width="1" height="20.5" fill="#82d4b2"/><rect x="1389" y="940.9" width="1" height="18" fill="#82d4b2"/><rect x="1394" y="925" width="1" height="23.7" fill="#82d4b2"/><rect x="1399" y="917" width="1" height="36.7" fill="#b95f79"/><rect x="1403" y="920" width="1" height="30.9" fill="#82d4b2"/><rect x="1408" y="922" width="1" height="27.2" fill="#b95f79"/><rect x="1413" y="923.7" width="1" height="47.2" fill="#b95f79"/><rect x="1417" y="962.1" width="1" height="17.7" fill="#b95f79"/><rect x="1422" y="965.1" width="1" height="19.7" fill="#b95f79"/><rect x="1427" y="967.1" width="1" height="19.7" fill="#82d4b2"/><rect x="1432" y="934.2" width="1" height="36.2" fill="#82d4b2"/><rect x="1436" y="928.9" width="1" height="20.9" fill="#b95f79"/><rect x="1441" y="936.4" width="1" height="44.5" fill="#b95f79"/><rect x="1446" y="972.1" width="1" height="26" fill="#b95f79"/><rect x="1450" y="986.8" width="1" height="19.2" fill="#b95f79"/><rect x="1455" y="998.1" width="1" height="29.9" fill="#b95f79"/><rect x="1460" y="1010.1" width="1" height="53.1" fill="#b95f79"/><rect x="1464" y="1041.8" width="1" height="30.9" fill="#82d4b2"/><rect x="1469" y="1025.1" width="1" height="26.7" fill="#b95f79"/><rect x="1474" y="1049.3" width="1" height="55.6" fill="#b95f79"/><rect x="1479" y="1027.1" width="1" height="34.7" fill="#82d4b2"/><rect x="1483" y="1019.8" width="1" height="18.4" fill="#b95f79"/><rect x="1488" y="1029.8" width="1" height="32" fill="#b95f79"/><rect x="1493" y="1013.1" width="1" height="49.5" fill="#82d4b2"/><rect x="1497" y="1001.8" width="1" height="15" fill="#82d4b2"/><rect x="1502" y="986.8" width="1" height="27.2" fill="#b95f79"/><rect x="1507" y="1006.3" width="1" height="24.7" fill="#b95f79"/><rect x="1511" y="1023.8" width="1" height="35" fill="#b95f79"/><rect x="1516" y="1037.1" width="1" height="27.7" fill="#82d4b2"/><rect x="1521" y="1043.1" width="1" height="19" fill="#b95f79"/><rect x="1526" y="1045.2" width="1" height="28" fill="#b95f79"/><rect x="1530" y="1043.1" width="1" height="20" fill="#82d4b2"/><rect x="1535" y="1027.1" width="1" height="24.4" fill="#82d4b2"/><rect x="1540" y="1029" width="1" height="31.2" fill="#b95f79"/><rect x="1544" y="1045.2" width="1" height="18.4" fill="#b95f79"/><rect x="1549" y="1052.2" width="1" height="11.8" fill="#82d4b2"/><rect x="1554" y="1053.2" width="1" height="25" fill="#b95f79"/><rect x="1558" y="1059.8" width="1" height="19.5" fill="#82d4b2"/><rect x="1563" y="1051.8" width="1" height="21.7" fill="#82d4b2"/><rect x="1568" y="1037.1" width="1" height="20.5" fill="#82d4b2"/><rect x="1573" y="1024.3" width="1" height="20.9" fill="#82d4b2"/><rect x="1577" y="1025.1" width="1" height="23.7" fill="#82d4b2"/><rect x="1582" y="1011.8" width="1" height="18" fill="#82d4b2"/><rect x="1587" y="1014.8" width="1" height="18.4" fill="#b95f79"/><rect x="1591" y="1013.1" width="1" height="26.2" fill="#82d4b2"/><rect x="1596" y="988.9" width="1" height="32" fill="#82d4b2"/><rect x="1601" y="994.8" width="1" height="24.5" fill="#82d4b2"/><rect x="1605" y="990.9" width="1" height="18.4" fill="#b95f79"/><rect x="1610" y="985.1" width="1" height="25" fill="#b95f79"/><rect x="1615" y="987.6" width="1" height="17.5" fill="#82d4b2"/><rect x="1620" y="963.9" width="1" height="29.5" fill="#82d4b2"/><rect x="1624" y="945.9" width="1" height="27.9" fill="#b95f79"/><rect x="1629" y="922" width="1" height="45.9" fill="#82d4b2"/><rect x="1634" y="858.8" width="1" height="93" fill="#82d4b2"/><rect x="1638" y="664.2" width="1" height="236.8" fill="#82d4b2"/><rect x="1643" y="658" width="1" height="95" fill="#b95f79"/><rect x="1648" y="703.1" width="1" height="75" fill="#b95f79"/><rect x="1652" y="764.1" width="1" height="24.8" fill="#b95f79"/><rect x="1657" y="767.2" width="1" height="51.2" fill="#b95f79"/><rect x="1662" y="786.1" width="1" height="44.9" fill="#b95f79"/><rect x="1667" y="825.2" width="1" height="44.3" fill="#b95f79"/><rect x="1671" y="843.2" width="1" height="33.5" fill="#82d4b2"/><rect x="1676" y="850.1" width="1" height="36.6" fill="#b95f79"/><rect x="1681" y="868.9" width="1" height="14.9" fill="#82d4b2"/><rect x="11" y="715.3" width="3" height="12.4" fill="#58f278"/><rect x="16" y="686.1" width="3" height="29.9" fill="#58f278"/><rect x="21" y="686.1" width="3" height="57.5" fill="#ef4c3e"/><rect x="25" y="745.2" width="3" height="14.6" fill="#ef4c3e"/><rect x="30" y="759.9" width="3" height="2.6" fill="#ef4c3e"/><rect x="35" y="762.3" width="3" height="27.5" fill="#ef4c3e"/><rect x="39" y="768" width="3" height="21.7" fill="#58f278"/><rect x="44" y="722.7" width="3" height="45.3" fill="#58f278"/><rect x="49" y="506.8" width="3" height="217" fill="#58f278"/><rect x="53" y="355.1" width="3" height="152.4" fill="#58f278"/><rect x="58" y="303" width="3" height="54.1" fill="#58f278"/><rect x="63" y="302.5" width="3" height="31.2" fill="#ef4c3e"/><rect x="68" y="189.8" width="3" height="144.4" fill="#58f278"/><rect x="72" y="113.9" width="3" height="77.1" fill="#58f278"/><rect x="77" y="113.9" width="3" height="61.2" fill="#ef4c3e"/><rect x="82" y="173.9" width="3" height="44.2" fill="#ef4c3e"/><rect x="86" y="209" width="3" height="9.2" fill="#58f278"/><rect x="91" y="209" width="3" height="26.2" fill="#ef4c3e"/><rect x="96" y="203.9" width="3" height="29.9" fill="#58f278"/><rect x="100" y="194.8" width="3" height="10.3" fill="#58f278"/><rect x="105" y="194.8" width="3" height="18.2" fill="#ef4c3e"/><rect x="110" y="212.1" width="3" height="43.9" fill="#ef4c3e"/><rect x="115" y="216" width="3" height="40" fill="#58f278"/><rect x="119" y="216" width="3" height="87.4" fill="#ef4c3e"/><rect x="124" y="289.9" width="3" height="12.6" fill="#58f278"/><rect x="129" y="235.1" width="3" height="55.9" fill="#58f278"/><rect x="133" y="235.1" width="3" height="2.8" fill="#ef4c3e"/><rect x="138" y="153.9" width="3" height="83.8" fill="#58f278"/><rect x="143" y="153.9" width="3" height="27" fill="#ef4c3e"/><rect x="147" y="178.9" width="3" height="10.8" fill="#ef4c3e"/><rect x="152" y="188.9" width="3" height="166.1" fill="#ef4c3e"/><rect x="157" y="286.9" width="3" height="68.2" fill="#58f278"/><rect x="162" y="286.9" width="3" height="99.9" fill="#ef4c3e"/><rect x="166" y="385.9" width="3" height="63.4" fill="#ef4c3e"/><rect x="171" y="448.2" width="3" height="93.6" fill="#ef4c3e"/><rect x="176" y="422.1" width="3" height="118.7" fill="#58f278"/><rect x="180" y="403.1" width="3" height="19.5" fill="#58f278"/><rect x="185" y="322.2" width="3" height="80.9" fill="#58f278"/><rect x="190" y="292.7" width="3" height="29.8" fill="#58f278"/><rect x="194" y="293.9" width="3" height="27.8" fill="#ef4c3e"/><rect x="199" y="320.9" width="3" height="30.9" fill="#ef4c3e"/><rect x="204" y="351.2" width="3" height="1.7" fill="#ef4c3e"/><rect x="209" y="347.2" width="3" height="6.5" fill="#58f278"/><rect x="213" y="347.2" width="3" height="7.8" fill="#ef4c3e"/><rect x="218" y="343" width="3" height="12" fill="#58f278"/><rect x="223" y="318.9" width="3" height="25" fill="#58f278"/><rect x="227" y="318.9" width="3" height="49.5" fill="#ef4c3e"/><rect x="232" y="367.9" width="3" height="8.8" fill="#ef4c3e"/><rect x="237" y="375.9" width="3" height="3.8" fill="#ef4c3e"/><rect x="241" y="379.8" width="3" height="50.4" fill="#ef4c3e"/><rect x="246" y="428.5" width="3" height="26.4" fill="#ef4c3e"/><rect x="251" y="426" width="3" height="30" fill="#58f278"/><rect x="256" y="426" width="3" height="38.9" fill="#ef4c3e"/><rect x="260" y="436.8" width="3" height="27.2" fill="#58f278"/><rect x="265" y="436.8" width="3" height="21.4" fill="#ef4c3e"/><rect x="270" y="436" width="3" height="22.2" fill="#58f278"/><rect x="274" y="420.1" width="3" height="16.7" fill="#58f278"/><rect x="279" y="420.1" width="3" height="10" fill="#ef4c3e"/><rect x="284" y="430.1" width="3" height="25.9" fill="#ef4c3e"/><rect x="288" y="444" width="3" height="12" fill="#58f278"/><rect x="293" y="444" width="3" height="23.7" fill="#ef4c3e"/><rect x="298" y="466.8" width="3" height="7" fill="#ef4c3e"/><rect x="303" y="473.2" width="3" height="3.7" fill="#ef4c3e"/><rect x="307" y="476" width="3" height="109.1" fill="#ef4c3e"/><rect x="312" y="584.3" width="3" height="44.2" fill="#ef4c3e"/><rect x="317" y="518" width="3" height="110.1" fill="#58f278"/><rect x="321" y="518" width="3" height="40.4" fill="#ef4c3e"/><rect x="326" y="557.2" width="3" height="55.4" fill="#ef4c3e"/><rect x="331" y="613.1" width="3" height="10.7" fill="#ef4c3e"/><rect x="335" y="608.1" width="3" height="15.7" fill="#58f278"/><rect x="340" y="608.1" width="3" height="15.7" fill="#ef4c3e"/><rect x="345" y="593.1" width="3" height="30.4" fill="#58f278"/><rect x="350" y="593.1" width="3" height="15.3" fill="#ef4c3e"/><rect x="354" y="608.4" width="3" height="24.2" fill="#ef4c3e"/><rect x="359" y="633.1" width="3" height="9.5" fill="#ef4c3e"/><rect x="364" y="629" width="3" height="13.7" fill="#58f278"/><rect x="368" y="594.3" width="3" height="36.7" fill="#58f278"/><rect x="373" y="594.3" width="3" height="30.5" fill="#ef4c3e"/><rect x="378" y="594.3" width="3" height="30.5" fill="#58f278"/><rect x="382" y="565.1" width="3" height="30.9" fill="#58f278"/><rect x="387" y="565.1" width="3" height="33.4" fill="#ef4c3e"/><rect x="392" y="584.3" width="3" height="14.2" fill="#58f278"/><rect x="397" y="584.3" width="3" height="14.2" fill="#ef4c3e"/><rect x="401" y="595.1" width="3" height="3.3" fill="#58f278"/><rect x="406" y="595.1" width="3" height="7.5" fill="#ef4c3e"/><rect x="411" y="602.1" width="3" height="11.7" fill="#ef4c3e"/><rect x="415" y="613.4" width="3" height="2.2" fill="#ef4c3e"/><rect x="420" y="557.2" width="3" height="59.6" fill="#58f278"/><rect x="425" y="557.2" width="3" height="52.1" fill="#ef4c3e"/><rect x="429" y="608.1" width="3" height="11.7" fill="#ef4c3e"/><rect x="434" y="620.1" width="3" height="3" fill="#ef4c3e"/><rect x="439" y="622.6" width="3" height="36.2" fill="#ef4c3e"/><rect x="444" y="658.2" width="3" height="22.4" fill="#ef4c3e"/><rect x="448" y="653.2" width="3" height="26.7" fill="#58f278"/><rect x="453" y="648.1" width="3" height="5.7" fill="#58f278"/><rect x="458" y="627.1" width="3" height="21.7" fill="#58f278"/><rect x="462" y="605.9" width="3" height="21.7" fill="#58f278"/><rect x="467" y="600.9" width="3" height="5.8" fill="#58f278"/><rect x="472" y="600.9" width="3" height="12.2" fill="#ef4c3e"/><rect x="476" y="604.3" width="3" height="7.8" fill="#58f278"/><rect x="481" y="604.3" width="3" height="9.5" fill="#ef4c3e"/><rect x="486" y="612.1" width="3" height="1.7" fill="#ef4c3e"/><rect x="491" y="604.8" width="3" height="7.8" fill="#58f278"/><rect x="495" y="594.3" width="3" height="11.3" fill="#58f278"/><rect x="500" y="594.3" width="3" height="2.5" fill="#ef4c3e"/><rect x="505" y="596.3" width="3" height="1.8" fill="#ef4c3e"/><rect x="509" y="597.3" width="3" height="15.3" fill="#ef4c3e"/><rect x="514" y="589.3" width="3" height="22.9" fill="#58f278"/><rect x="519" y="572.1" width="3" height="17.7" fill="#58f278"/><rect x="523" y="558.1" width="3" height="14.5" fill="#58f278"/><rect x="528" y="540.9" width="3" height="18" fill="#58f278"/><rect x="533" y="540.9" width="3" height="30" fill="#ef4c3e"/><rect x="538" y="544.2" width="3" height="26.7" fill="#58f278"/><rect x="542" y="525" width="3" height="20" fill="#58f278"/><rect x="547" y="520.1" width="3" height="5.6" fill="#58f278"/><rect x="552" y="520.1" width="3" height="18.5" fill="#ef4c3e"/><rect x="556" y="507.7" width="3" height="30.5" fill="#58f278"/><rect x="561" y="495.9" width="3" height="13" fill="#58f278"/><rect x="566" y="495.9" width="3" height="2.2" fill="#ef4c3e"/><rect x="570" y="496.8" width="3" height="9.1" fill="#ef4c3e"/><rect x="575" y="504.7" width="3" height="22" fill="#ef4c3e"/><rect x="580" y="525.9" width="3" height="14.2" fill="#ef4c3e"/><rect x="585" y="503.7" width="3" height="35.4" fill="#58f278"/><rect x="589" y="502" width="3" height="2.7" fill="#58f278"/><rect x="594" y="502" width="3" height="3.8" fill="#ef4c3e"/><rect x="599" y="438.9" width="3" height="67" fill="#58f278"/><rect x="603" y="440" width="3" height="3" fill="#ef4c3e"/><rect x="608" y="443" width="3" height="40.4" fill="#ef4c3e"/><rect x="613" y="463.7" width="3" height="20.5" fill="#58f278"/><rect x="617" y="463.7" width="3" height="32.2" fill="#ef4c3e"/><rect x="622" y="471.2" width="3" height="24.7" fill="#58f278"/><rect x="627" y="471.2" width="3" height="16.3" fill="#ef4c3e"/><rect x="632" y="480.9" width="3" height="6.7" fill="#58f278"/><rect x="636" y="480.9" width="3" height="15" fill="#ef4c3e"/><rect x="641" y="495.1" width="3" height="8.1" fill="#ef4c3e"/><rect x="646" y="472.1" width="3" height="31.9" fill="#58f278"/><rect x="650" y="472.1" width="3" height="8" fill="#ef4c3e"/><rect x="655" y="473.1" width="3" height="7" fill="#58f278"/><rect x="660" y="473.1" width="3" height="2" fill="#58f278"/><rect x="664" y="462.9" width="3" height="11.3" fill="#58f278"/><rect x="669" y="462.1" width="3" height="10.8" fill="#ef4c3e"/><rect x="674" y="471.2" width="3" height="109.3" fill="#ef4c3e"/><rect x="679" y="579.3" width="3" height="11.3" fill="#ef4c3e"/><rect x="683" y="585.1" width="3" height="5.5" fill="#58f278"/><rect x="688" y="585.1" width="3" height="23.8" fill="#ef4c3e"/><rect x="693" y="603.1" width="3" height="5.8" fill="#58f278"/><rect x="697" y="590" width="3" height="14.8" fill="#58f278"/><rect x="702" y="590" width="3" height="24.4" fill="#ef4c3e"/><rect x="707" y="595" width="3" height="19.4" fill="#58f278"/><rect x="711" y="571.9" width="3" height="25" fill="#58f278"/><rect x="716" y="572.9" width="3" height="15.6" fill="#ef4c3e"/><rect x="721" y="587.6" width="3" height="15.5" fill="#ef4c3e"/><rect x="726" y="595.1" width="3" height="8" fill="#58f278"/><rect x="730" y="595.1" width="3" height="12.5" fill="#ef4c3e"/><rect x="735" y="607.1" width="3" height="54.7" fill="#ef4c3e"/><rect x="740" y="661" width="3" height="27.2" fill="#ef4c3e"/><rect x="744" y="648.8" width="3" height="40.2" fill="#58f278"/><rect x="749" y="647.1" width="3" height="2.7" fill="#58f278"/><rect x="754" y="646.8" width="3" height="33" fill="#ef4c3e"/><rect x="758" y="678.2" width="3" height="4.5" fill="#ef4c3e"/><rect x="763" y="681.8" width="3" height="6.7" fill="#ef4c3e"/><rect x="768" y="681" width="3" height="7.5" fill="#58f278"/><rect x="773" y="675.2" width="3" height="6.7" fill="#58f278"/><rect x="777" y="664.3" width="3" height="11.7" fill="#58f278"/><rect x="782" y="649.8" width="3" height="15" fill="#58f278"/><rect x="787" y="627.9" width="3" height="23" fill="#58f278"/><rect x="791" y="628.1" width="3" height="2.5" fill="#ef4c3e"/><rect x="796" y="629.8" width="3" height="2" fill="#ef4c3e"/><rect x="801" y="632.1" width="3" height="11.7" fill="#ef4c3e"/><rect x="805" y="633.1" width="3" height="10.7" fill="#58f278"/><rect x="810" y="615.3" width="3" height="18.6" fill="#58f278"/><rect x="815" y="600.1" width="3" height="15.8" fill="#58f278"/><rect x="820" y="600.1" width="3" height="10.6" fill="#ef4c3e"/><rect x="824" y="604.3" width="3" height="5.8" fill="#58f278"/><rect x="829" y="603.8" width="3" height="27.1" fill="#ef4c3e"/><rect x="834" y="630.1" width="3" height="3.8" fill="#ef4c3e"/><rect x="838" y="615.3" width="3" height="18.6" fill="#58f278"/><rect x="843" y="613.2" width="3" height="3.7" fill="#58f278"/><rect x="848" y="573.1" width="3" height="40" fill="#58f278"/><rect x="852" y="573.1" width="3" height="9.5" fill="#ef4c3e"/><rect x="857" y="582.3" width="3" height="5.3" fill="#ef4c3e"/><rect x="862" y="587.1" width="3" height="12.2" fill="#ef4c3e"/><rect x="867" y="591" width="3" height="8.3" fill="#58f278"/><rect x="871" y="591" width="3" height="4.2" fill="#ef4c3e"/><rect x="876" y="575.1" width="3" height="20.9" fill="#58f278"/><rect x="881" y="575.1" width="3" height="18.4" fill="#ef4c3e"/><rect x="885" y="589.2" width="3" height="4.2" fill="#58f278"/><rect x="890" y="587.1" width="3" height="3" fill="#58f278"/><rect x="895" y="587.1" width="3" height="13.8" fill="#ef4c3e"/><rect x="899" y="587.1" width="3" height="13.8" fill="#58f278"/><rect x="904" y="587.1" width="3" height="4.7" fill="#ef4c3e"/><rect x="909" y="590.9" width="3" height="52.9" fill="#ef4c3e"/><rect x="914" y="625.9" width="3" height="17.9" fill="#58f278"/><rect x="918" y="611.8" width="3" height="15" fill="#58f278"/><rect x="923" y="583.9" width="3" height="28.7" fill="#58f278"/><rect x="928" y="583.9" width="3" height="13.7" fill="#ef4c3e"/><rect x="932" y="586.2" width="3" height="11.3" fill="#58f278"/><rect x="937" y="567.2" width="3" height="19.5" fill="#58f278"/><rect x="942" y="567.2" width="3" height="8.7" fill="#ef4c3e"/><rect x="946" y="574.2" width="3" height="11.7" fill="#ef4c3e"/><rect x="951" y="581.2" width="3" height="4.7" fill="#58f278"/><rect x="956" y="581.2" width="3" height="7.7" fill="#ef4c3e"/><rect x="961" y="580.1" width="3" height="8" fill="#58f278"/><rect x="965" y="580.1" width="3" height="1" fill="#58f278"/><rect x="970" y="569.2" width="3" height="11.7" fill="#58f278"/><rect x="975" y="569.2" width="3" height="17" fill="#ef4c3e"/><rect x="979" y="576.2" width="3" height="10" fill="#58f278"/><rect x="984" y="576.2" width="3" height="9.7" fill="#ef4c3e"/><rect x="989" y="572.2" width="3" height="12.8" fill="#58f278"/><rect x="993" y="565.9" width="3" height="7.2" fill="#58f278"/><rect x="998" y="565.9" width="3" height="15.3" fill="#ef4c3e"/><rect x="1003" y="580.4" width="3" height="38.9" fill="#ef4c3e"/><rect x="1008" y="606.8" width="3" height="12.5" fill="#58f278"/><rect x="1012" y="606.8" width="3" height="6.3" fill="#ef4c3e"/><rect x="1017" y="603.1" width="3" height="10.8" fill="#58f278"/><rect x="1022" y="588.9" width="3" height="14.2" fill="#58f278"/><rect x="1026" y="588.9" width="3" height="8.2" fill="#ef4c3e"/><rect x="1031" y="598" width="3" height="24.2" fill="#ef4c3e"/><rect x="1036" y="614.2" width="3" height="7" fill="#58f278"/><rect x="1040" y="614.2" width="3" height="11.3" fill="#ef4c3e"/><rect x="1045" y="613.4" width="3" height="12.2" fill="#58f278"/><rect x="1050" y="613.4" width="3" height="36.7" fill="#ef4c3e"/><rect x="1055" y="640.1" width="3" height="10" fill="#58f278"/><rect x="1059" y="640.4" width="3" height="3" fill="#ef4c3e"/><rect x="1064" y="641.2" width="3" height="2.2" fill="#58f278"/><rect x="1069" y="640.1" width="3" height="9.2" fill="#ef4c3e"/><rect x="1073" y="645.1" width="3" height="3" fill="#58f278"/><rect x="1078" y="645.1" width="3" height="9.2" fill="#ef4c3e"/><rect x="1083" y="645.9" width="3" height="7.5" fill="#58f278"/><rect x="1087" y="646.4" width="3" height="84.3" fill="#ef4c3e"/><rect x="1092" y="729.8" width="3" height="31.2" fill="#ef4c3e"/><rect x="1097" y="750.1" width="3" height="9.7" fill="#58f278"/><rect x="1102" y="750.9" width="3" height="1" fill="#58f278"/><rect x="1106" y="739.8" width="3" height="11.4" fill="#58f278"/><rect x="1111" y="739.8" width="3" height="32.2" fill="#ef4c3e"/><rect x="1116" y="771" width="3" height="18.3" fill="#ef4c3e"/><rect x="1120" y="767.9" width="3" height="21.4" fill="#58f278"/><rect x="1125" y="768.1" width="3" height="1.7" fill="#ef4c3e"/><rect x="1130" y="769.1" width="3" height="44.8" fill="#ef4c3e"/><rect x="1134" y="803.9" width="3" height="10" fill="#58f278"/><rect x="1139" y="797.6" width="3" height="8.3" fill="#58f278"/><rect x="1144" y="797.6" width="3" height="8.3" fill="#ef4c3e"/><rect x="1149" y="805.1" width="3" height="8" fill="#ef4c3e"/><rect x="1153" y="803.1" width="3" height="8.7" fill="#58f278"/><rect x="1158" y="803.1" width="3" height="7.8" fill="#ef4c3e"/><rect x="1163" y="810.9" width="3" height="13.3" fill="#ef4c3e"/><rect x="1167" y="810.9" width="3" height="13.3" fill="#58f278"/><rect x="1172" y="798.1" width="3" height="12.8" fill="#58f278"/><rect x="1177" y="772.9" width="3" height="26" fill="#58f278"/><rect x="1181" y="773.9" width="3" height="13.2" fill="#ef4c3e"/><rect x="1186" y="777.1" width="3" height="10" fill="#58f278"/><rect x="1191" y="763.7" width="3" height="14.4" fill="#58f278"/><rect x="1196" y="763.1" width="3" height="3" fill="#ef4c3e"/><rect x="1200" y="765.1" width="3" height="38.8" fill="#ef4c3e"/><rect x="1205" y="803.1" width="3" height="14" fill="#ef4c3e"/><rect x="1210" y="809.3" width="3" height="7.8" fill="#58f278"/><rect x="1214" y="809.3" width="3" height="5.8" fill="#ef4c3e"/><rect x="1219" y="795.1" width="3" height="20" fill="#58f278"/><rect x="1224" y="792.6" width="3" height="3.3" fill="#58f278"/><rect x="1228" y="792.6" width="3" height="1.7" fill="#ef4c3e"/><rect x="1233" y="790.1" width="3" height="4.2" fill="#58f278"/><rect x="1238" y="790.1" width="3" height="27.5" fill="#ef4c3e"/><rect x="1243" y="817.1" width="3" height="3.8" fill="#ef4c3e"/><rect x="1247" y="818.8" width="3" height="31" fill="#ef4c3e"/><rect x="1252" y="849" width="3" height="18.2" fill="#ef4c3e"/><rect x="1257" y="862.6" width="3" height="5.5" fill="#58f278"/><rect x="1261" y="863.1" width="3" height="18.7" fill="#ef4c3e"/><rect x="1266" y="866.8" width="3" height="15.8" fill="#58f278"/><rect x="1271" y="845.1" width="3" height="23" fill="#58f278"/><rect x="1275" y="846" width="3" height="12.2" fill="#ef4c3e"/><rect x="1280" y="838.8" width="3" height="18.5" fill="#58f278"/><rect x="1285" y="838" width="3" height="5.2" fill="#ef4c3e"/><rect x="1290" y="842.1" width="3" height="3.8" fill="#ef4c3e"/><rect x="1294" y="845.1" width="3" height="21.7" fill="#ef4c3e"/><rect x="1299" y="866" width="3" height="8.3" fill="#ef4c3e"/><rect x="1304" y="873.8" width="3" height="12.2" fill="#ef4c3e"/><rect x="1308" y="885.2" width="3" height="19.2" fill="#ef4c3e"/><rect x="1313" y="904.7" width="3" height="57.1" fill="#ef4c3e"/><rect x="1318" y="960.9" width="3" height="49.7" fill="#ef4c3e"/><rect x="1322" y="1003.1" width="3" height="7.5" fill="#58f278"/><rect x="1327" y="1003.1" width="3" height="19.5" fill="#ef4c3e"/><rect x="1332" y="1003.8" width="3" height="18" fill="#58f278"/><rect x="1337" y="1003.8" width="3" height="1.3" fill="#ef4c3e"/><rect x="1341" y="1005.1" width="3" height="2.5" fill="#ef4c3e"/><rect x="1346" y="1004.8" width="3" height="4.2" fill="#58f278"/><rect x="1351" y="997.1" width="3" height="9.7" fill="#58f278"/><rect x="1355" y="997.1" width="3" height="4.7" fill="#ef4c3e"/><rect x="1360" y="999.8" width="3" height="2" fill="#58f278"/><rect x="1365" y="994.3" width="3" height="8.3" fill="#58f278"/><rect x="1369" y="994.3" width="3" height="5" fill="#ef4c3e"/><rect x="1374" y="988.4" width="3" height="10" fill="#58f278"/><rect x="1379" y="960.9" width="3" height="28.4" fill="#58f278"/><rect x="1384" y="957.2" width="3" height="5.3" fill="#58f278"/><rect x="1388" y="941.4" width="3" height="16.7" fill="#58f278"/><rect x="1393" y="930.9" width="3" height="10.8" fill="#58f278"/><rect x="1398" y="930.9" width="3" height="17.2" fill="#ef4c3e"/><rect x="1402" y="932" width="3" height="13.8" fill="#58f278"/><rect x="1407" y="932" width="3" height="12.7" fill="#ef4c3e"/><rect x="1412" y="944.7" width="3" height="20" fill="#ef4c3e"/><rect x="1416" y="963.9" width="3" height="8.7" fill="#ef4c3e"/><rect x="1421" y="971.7" width="3" height="8.3" fill="#ef4c3e"/><rect x="1426" y="969.2" width="3" height="10.8" fill="#58f278"/><rect x="1431" y="934.7" width="3" height="35.4" fill="#58f278"/><rect x="1435" y="934.7" width="3" height="6.2" fill="#ef4c3e"/><rect x="1440" y="939.7" width="3" height="40.4" fill="#ef4c3e"/><rect x="1445" y="979.3" width="3" height="18.4" fill="#ef4c3e"/><rect x="1449" y="998.1" width="3" height="1.2" fill="#ef4c3e"/><rect x="1454" y="998.4" width="3" height="25.5" fill="#ef4c3e"/><rect x="1459" y="1022.1" width="3" height="40.5" fill="#ef4c3e"/><rect x="1463" y="1042.6" width="3" height="19.2" fill="#58f278"/><rect x="1468" y="1042.6" width="3" height="8.3" fill="#ef4c3e"/><rect x="1473" y="1050.2" width="3" height="8.7" fill="#ef4c3e"/><rect x="1478" y="1033.1" width="3" height="25" fill="#58f278"/><rect x="1482" y="1032.1" width="3" height="3" fill="#ef4c3e"/><rect x="1487" y="1034.3" width="3" height="26.7" fill="#ef4c3e"/><rect x="1492" y="1013.5" width="3" height="48" fill="#58f278"/><rect x="1496" y="1003.8" width="3" height="10.2" fill="#58f278"/><rect x="1501" y="1003.8" width="3" height="7.2" fill="#ef4c3e"/><rect x="1506" y="1009.8" width="3" height="16.2" fill="#ef4c3e"/><rect x="1510" y="1025.1" width="3" height="30.9" fill="#ef4c3e"/><rect x="1515" y="1046.8" width="3" height="10" fill="#58f278"/><rect x="1520" y="1046.5" width="3" height="15" fill="#ef4c3e"/><rect x="1525" y="1060.2" width="3" height="1.7" fill="#ef4c3e"/><rect x="1529" y="1050.2" width="3" height="12.2" fill="#58f278"/><rect x="1534" y="1029.8" width="3" height="21.2" fill="#58f278"/><rect x="1539" y="1031" width="3" height="17.9" fill="#ef4c3e"/><rect x="1543" y="1048.8" width="3" height="13.8" fill="#ef4c3e"/><rect x="1548" y="1061" width="3" height="2.5" fill="#58f278"/><rect x="1553" y="1061" width="3" height="15.8" fill="#ef4c3e"/><rect x="1557" y="1060.2" width="3" height="17.5" fill="#58f278"/><rect x="1562" y="1056" width="3" height="5" fill="#58f278"/><rect x="1567" y="1037.6" width="3" height="19.2" fill="#58f278"/><rect x="1572" y="1037.1" width="3" height="1" fill="#58f278"/><rect x="1576" y="1026.8" width="3" height="11.2" fill="#58f278"/><rect x="1581" y="1018.8" width="3" height="10.2" fill="#58f278"/><rect x="1586" y="1018.8" width="3" height="12.2" fill="#ef4c3e"/><rect x="1590" y="1018.8" width="3" height="11.3" fill="#58f278"/><rect x="1595" y="1012.3" width="3" height="7.5" fill="#58f278"/><rect x="1600" y="995.1" width="3" height="18.9" fill="#58f278"/><rect x="1604" y="993.8" width="3" height="3" fill="#ef4c3e"/><rect x="1609" y="994.8" width="3" height="8.7" fill="#ef4c3e"/><rect x="1614" y="988.1" width="3" height="15.7" fill="#58f278"/><rect x="1619" y="964.2" width="3" height="25.9" fill="#58f278"/><rect x="1623" y="963.9" width="3" height="4.2" fill="#ef4c3e"/><rect x="1628" y="935.9" width="3" height="31.2" fill="#58f278"/><rect x="1633" y="898.9" width="3" height="38.7" fill="#58f278"/><rect x="1637" y="684.1" width="3" height="215" fill="#58f278"/><rect x="1642" y="684.1" width="3" height="62.7" fill="#ef4c3e"/><rect x="1647" y="747" width="3" height="27.1" fill="#ef4c3e"/><rect x="1651" y="773.2" width="3" height="2.7" fill="#ef4c3e"/><rect x="1656" y="775.9" width="3" height="29.2" fill="#ef4c3e"/><rect x="1661" y="805.1" width="3" height="25.7" fill="#ef4c3e"/><rect x="1666" y="829" width="3" height="40.3" fill="#ef4c3e"/><rect x="1670" y="850.9" width="3" height="19.4" fill="#58f278"/><rect x="1675" y="850.7" width="3" height="31.7" fill="#ef4c3e"/><rect x="1680" y="872" width="3" height="11.5" fill="#58f278"/></g>
<polyline points="12.3,723.8 19.3,723.8 25.5,725 33.3,727.7 41,730.3 43.4,729.7 46.5,723 50.7,708.3 54,690 57.2,671 60.5,657 63.4,646.8 67.6,616.8 70.1,593.4 72.6,570.1 76.7,545 81.7,521.7 88.4,500 93.4,478.5 101.8,451.8 110.1,431.8 116.8,418.5 125.1,407.6 135.1,390.9 141.8,373.4 148.5,358.4 153.5,358.1 158.5,355.1 163.5,357.1 170.2,363.4 176.8,367.1 181,368.4 186.8,365.1 193.5,361.7 201.9,360.9 218.5,359.7 224.4,357.6 236.9,358.9 243.6,362.6 255.2,370.1 268.6,376.7 280.3,381.8 293.6,387.6 303.6,394.3 312.8,406.8 322,415.1 332,428.5 342,441.8 352,451.8 363.7,465.2 370,470.2 406.8,500 416.8,506.3 426.8,513.3 436.8,521.7 446.8,530.9 456.8,538.7 466.8,544.7 476.8,549.7 486.9,554.2 496.9,558.1 506.9,560.9 515.2,563.1 520,562.7 530,561.8 541.7,561 553.6,556.7 563.6,552.6 570.1,549.3 580.1,547.6 593.4,542.6 603.4,534.3 613.4,529.3 623.4,524.3 633.4,520.9 642,519.7 650.4,515.8 660,512.2 670.2,508.8 674.3,510.4 683.5,516.8 689.2,520 693.5,523.1 700,526.7 706.9,531 713.4,532.5 726.7,539.2 736.7,546.7 746.8,554.7 753.6,559.3 765.2,569.3 776.8,577.6 786.8,582.6 796.8,586.2 806.8,590.1 816.8,591.7 826.8,593.4 835.2,595.6 840.3,596.5 850.3,596 860.3,595.2 868.5,594.2 880,594.4 885.2,593.1 901.9,593.4 913.6,596.4 920.3,597.1 930.3,596.4 940.3,594.2 957,593.1 977,590.4 990.3,588.7 998.7,587.6 1010,590.5 1020,591.4 1033.4,592.5 1046.7,595.5 1056.7,599.2 1070.1,603.7 1083.4,608 1093.4,617.6 1103.4,626.7 1116.8,638.4 1126.8,648.4 1136.8,658.4 1146.8,668.4 1156.8,678.5 1166.8,687.6 1176.8,695.5 1186.9,701.5 1196.9,706.8 1206.9,714.3 1215.2,720.2 1220.2,722.5 1225.2,725.2 1233.5,729.2 1245.2,736.7 1255.2,745.9 1265.2,754.2 1275.2,760.9 1285.2,768.4 1295.2,775.1 1303.6,780.9 1310.3,786.7 1316.9,794.2 1323.6,801.8 1330.3,810.9 1336.9,820.1 1343.6,828.4 1352,837.6 1360.3,845.1 1368.6,853.5 1377,861 1385.3,867.7 1393.7,872.7 1403.7,877.7 1412,882.7 1420,887.7 1436,895 1445.2,901.7 1455.2,909.2 1465.2,917.5 1475.2,925.9 1485.2,933.4 1490.2,937.5 1500.2,943.4 1510.2,950.1 1520.2,956.7 1530.2,965.1 1535.2,967.1 1545.3,973.4 1555.3,979.8 1565.3,985.1 1575.3,989.3 1585.3,992.3 1595.3,994.3 1603.6,994.8 1613.7,994.6 1622,993.1 1628.7,990.1 1633.3,985.9 1637.8,966.7 1642,956.7 1646.2,948.4 1658,930 1665,924 1672,920 1681,917" fill="none" stroke="#e4e4f8" stroke-width="1.15" stroke-linejoin="round"/>
</g>
<line x1="2069.5" y1="30.4" x2="2069.5" y2="1249.2" stroke="#2c3072" stroke-width="1"/>
<line x1="11.6" y1="1219.5" x2="2069.5" y2="1219.5" stroke="#20256a" stroke-width="1"/>
<g font-size="13.5" fill="#b3b6dc" stroke="#b3b6dc" stroke-width="0.3">
<text x="2080" y="47.6">10.000</text>
<text x="2080" y="83.9">9.000</text>
<text x="2080" y="124.5">8.000</text>
<text x="2080" y="170.5">7.000</text>
<text x="2080" y="212.3">6.200</text>
<text x="2080" y="247.4">5.600</text>
<text x="2080" y="330.4">4.400</text>
<text x="2080" y="380.9">3.800</text>
<text x="2080" y="419.3">3.400</text>
<text x="2080" y="462.4">3.000</text>
<text x="2080" y="498.7">2.700</text>
<text x="2080" y="539.2">2.400</text>
<text x="2080" y="585.2">2.100</text>
<text x="2080" y="619.7">1.900</text>
<text x="2080" y="658">1.700</text>
<text x="2080" y="701.2">1.500</text>
<text x="2080" y="737.5">1.350</text>
<text x="2080" y="778">1.200</text>
<text x="2080" y="824">1.050</text>
<text x="2080" y="858.5">0.950</text>
<text x="2080" y="930.9">0.770</text>
<text x="2080" y="968.7">0.690</text>
<text x="2080" y="1011.1">0.610</text>
<text x="2080" y="1046.8">0.550</text>
<text x="2080" y="1086.6">0.490</text>
<text x="2080" y="1123.7">0.440</text>
<text x="2080" y="1160.8">0.395</text>
<text x="2080" y="1195.7">0.357</text>
</g>
<g clip-path="url(#plot2)"><defs><clipPath id="plot2"><rect x="2069.5" y="30.4" width="80" height="1189.1"/></clipPath></defs><rect x="2069.5" y="1208.2" width="74.8" height="19" fill="#4b4e5c"/><text x="2081" y="1222.7" font-size="13.5" fill="#f0f0f6" stroke="#f0f0f6" stroke-width="0.4">352.561K</text></g>
<rect x="2088.5" y="37.5" width="40" height="20" rx="4" fill="#05084a" stroke="#30356f"/>
<text x="2093" y="51.5" font-size="12.5" fill="#b3b6dc" textLength="31.5" lengthAdjust="spacingAndGlyphs">BUSD</text>
<rect x="2069.0" y="270.1" width="53" height="18.8" rx="1.5" fill="#fff"/>
<text x="2081" y="284.4" font-size="13.5" fill="#2a2e39" stroke="#2a2e39" stroke-width="0.2">5.038</text>
<rect x="2069.0" y="430.1" width="53" height="18.8" rx="1.5" fill="#fff"/>
<text x="2081" y="444.4" font-size="13.5" fill="#2a2e39" stroke="#2a2e39" stroke-width="0.2">3.167</text>
<rect x="2069.0" y="548.1" width="53" height="18.8" rx="1.5" fill="#fff"/>
<text x="2081" y="562.4" font-size="13.5" fill="#2a2e39" stroke="#2a2e39" stroke-width="0.2">2.249</text>
<rect x="2069.0" y="671.1" width="53" height="18.8" rx="1.5" fill="#fff"/>
<text x="2081" y="685.4" font-size="13.5" fill="#2a2e39" stroke="#2a2e39" stroke-width="0.2">1.574</text>
<rect x="2069.0" y="978.1" width="53" height="18.8" rx="1.5" fill="#fff"/>
<text x="2081" y="992.4" font-size="13.5" fill="#2a2e39" stroke="#2a2e39" stroke-width="0.2">0.645</text>
<rect x="2069.0" y="1061.1" width="53" height="18.8" rx="1.5" fill="#fff"/>
<text x="2081" y="1075.4" font-size="13.5" fill="#2a2e39" stroke="#2a2e39" stroke-width="0.2">0.508</text>
<rect x="2069.0" y="908.1" width="53" height="18.8" rx="1.5" fill="#fff"/>
<text x="2081" y="922.4" font-size="13.5" fill="#2a2e39" stroke="#2a2e39" stroke-width="0.2">0.790</text>
<rect x="2069.0" y="863" width="72.5" height="35" rx="1.5" fill="#fff"/>
<text x="2081" y="878" font-size="13.5" fill="#2a2e39" stroke="#2a2e39" stroke-width="0.2">0.901</text>
<text x="2081.5" y="894.3" font-size="13.5" fill="#787b86">17:43:37</text>
<rect x="2030" y="90.1" width="91.7" height="18.6" rx="1.5" fill="#1b3672"/>
<text x="2035.5" y="104.1" font-size="13.5" fill="#fff" stroke="#fff" stroke-width="0.35">High</text>
<text x="2081" y="104.3" font-size="13.5" fill="#fff" stroke="#fff" stroke-width="0.35">8.490</text>
<rect x="2035" y="591.2" width="86.7" height="18.6" rx="1.5" fill="#1b3672"/>
<text x="2040.5" y="605.2" font-size="13.5" fill="#fff" stroke="#fff" stroke-width="0.35">Avg</text>
<text x="2081" y="605.4" font-size="13.5" fill="#fff" stroke="#fff" stroke-width="0.35">1.983</text>
<rect x="2032" y="1096.3" width="89.7" height="18.6" rx="1.5" fill="#1b3672"/>
<text x="2037.5" y="1110.3" font-size="13.5" fill="#fff" stroke="#fff" stroke-width="0.35">Low</text>
<text x="2081" y="1110.5" font-size="13.5" fill="#fff" stroke="#fff" stroke-width="0.35">0.458</text>
<g font-size="13" fill="#b3b6dc" text-anchor="middle">
<text x="68.6" y="1240">May</text>
<text x="214.3" y="1240">Jun</text>
<text x="355.4" y="1240">Jul</text>
<text x="501.1" y="1240">Aug</text>
<text x="646.8" y="1240">Sep</text>
<text x="787.8" y="1240">Oct</text>
<text x="933.5" y="1240">Nov</text>
<text x="1074.5" y="1240">Dec</text>
<text x="1365.8" y="1240">Feb</text>
<text x="1497.4" y="1240">Mar</text>
<text x="1643.1" y="1240">Apr</text>
<text x="1784.1" y="1240">May</text>
<text x="1929.8" y="1240">Jun</text>
<text x="1220.3" y="1240" font-weight="bold" fill="#c4c6e4">2022</text>
</g>
<g font-size="13.5">
<text x="20.3" y="51.6" fill="#b3b6dc" stroke="#b3b6dc" stroke-width="0.25" textLength="162" lengthAdjust="spacingAndGlyphs">BAKE / BUSD, 1D, BINANCE</text>
<text x="190.3" y="51.5" fill="#b3b6dc">O</text>
<text x="199.3" y="51.5" fill="#54e37c" stroke="#54e37c" stroke-width="0.45" textLength="33.5" lengthAdjust="spacingAndGlyphs">0.874</text>
<text x="241" y="51.5" fill="#b3b6dc">H</text>
<text x="250" y="51.5" fill="#54e37c" stroke="#54e37c" stroke-width="0.45" textLength="33.5" lengthAdjust="spacingAndGlyphs">0.909</text>
<text x="291.5" y="51.5" fill="#b3b6dc">L</text>
<text x="298.3" y="51.5" fill="#54e37c" stroke="#54e37c" stroke-width="0.45" textLength="33.5" lengthAdjust="spacingAndGlyphs">0.874</text>
<text x="339" y="51.5" fill="#b3b6dc">C</text>
<text x="348" y="51.5" fill="#54e37c" stroke="#54e37c" stroke-width="0.45" textLength="33.5" lengthAdjust="spacingAndGlyphs">0.901</text>
<text x="389" y="51.5" fill="#54e37c" stroke="#54e37c" stroke-width="0.45" textLength="95.5" lengthAdjust="spacingAndGlyphs">+0.026 (+2.97%)</text>
</g>
<text x="11.7" y="21.3" font-size="14" fill="#2a2e39" textLength="406.3" lengthAdjust="spacingAndGlyphs">Bitpin published on TradingView.com, Apr 09, 2022 10:46 UTC+4:30</text>
<g fill="#1e222d"><path d="M11.3 1263.6h9.4v10.8h-5v-6h-4.4z"/><circle cx="23.8" cy="1266.1" r="2.5"/><path d="M28.5 1263.6h4.7l-4.6 10.8h-4.7z"/></g>
<text x="39.3" y="1274.8" font-size="14.3" fill="#1e222d" textLength="77" lengthAdjust="spacingAndGlyphs">TradingView</text>
</svg></body></html>
